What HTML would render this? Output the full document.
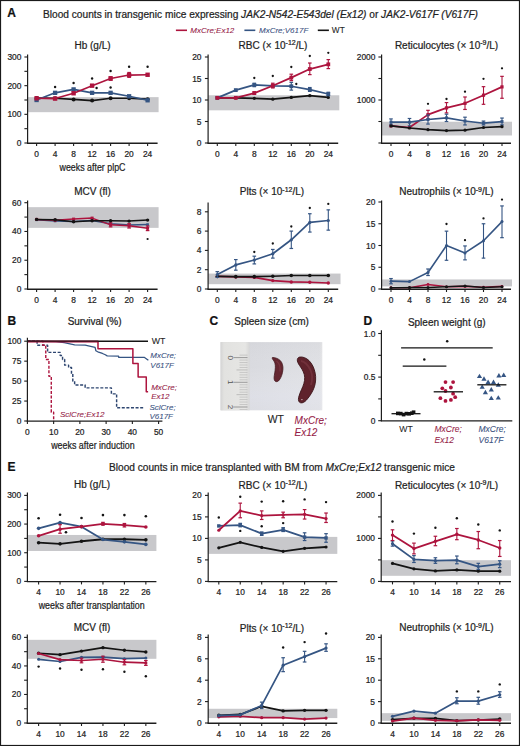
<!DOCTYPE html>
<html><head><meta charset="utf-8"><title>Figure</title>
<style>html,body{margin:0;padding:0;background:#fff;}body{width:520px;height:746px;overflow:hidden;font-family:"Liberation Sans", sans-serif;}svg{display:block;}</style></head><body>
<svg width="520" height="746" viewBox="0 0 520 746" font-family='"Liberation Sans", sans-serif'>
<rect x="0" y="0" width="520" height="746" fill="#ffffff"/>
<text x="7.3" y="17.4" font-size="12" text-anchor="start" fill="#111" stroke="#111" stroke-width="0.22" font-weight="bold">A</text>
<text x="7.5" y="324.5" font-size="12" text-anchor="start" fill="#111" stroke="#111" stroke-width="0.22" font-weight="bold">B</text>
<text x="209.6" y="325" font-size="12" text-anchor="start" fill="#111" stroke="#111" stroke-width="0.22" font-weight="bold">C</text>
<text x="363.4" y="324.5" font-size="12" text-anchor="start" fill="#111" stroke="#111" stroke-width="0.22" font-weight="bold">D</text>
<text x="7.4" y="471.3" font-size="12" text-anchor="start" fill="#111" stroke="#111" stroke-width="0.22" font-weight="bold">E</text>
<text x="43" y="18" font-size="10.1" fill="#1e1e1e" stroke="#1e1e1e" stroke-width="0.22" textLength="435" lengthAdjust="spacingAndGlyphs">Blood counts in transgenic mice expressing <tspan font-style="italic">JAK2-N542-E543del (Ex12)</tspan> or <tspan font-style="italic">JAK2-V617F (V617F)</tspan></text>
<text x="109" y="471" font-size="10.1" fill="#1e1e1e" stroke="#1e1e1e" stroke-width="0.22" textLength="346" lengthAdjust="spacingAndGlyphs">Blood counts in mice transplanted with BM from <tspan font-style="italic">MxCre;Ex12</tspan> transgenic mice</text>
<line x1="175.9" y1="30.3" x2="187" y2="30.3" stroke="#ad143e" stroke-width="1.6"/>
<text x="190.3" y="32.8" font-size="8" text-anchor="start" fill="#961c48" stroke="#961c48" stroke-width="0.08" font-style="italic">MxCre;Ex12</text>
<line x1="244.4" y1="30.3" x2="255.3" y2="30.3" stroke="#355583" stroke-width="1.6"/>
<text x="259" y="32.8" font-size="8" text-anchor="start" fill="#3a5180" stroke="#3a5180" stroke-width="0.08" font-style="italic">MxCre;V617F</text>
<line x1="317.8" y1="30.3" x2="328.9" y2="30.3" stroke="#141414" stroke-width="1.6"/>
<text x="331.8" y="32.8" font-size="8.3" text-anchor="start" fill="#1e1e1e" stroke="#1e1e1e" stroke-width="0.08">WT</text>
<rect x="27.6" y="97.13" width="131" height="15.05" fill="#c8c8cb"/>
<polyline points="36.6,97.99 55.1,98.28 73.6,99.43 92.1,100.57 110.6,98.28 129.1,98.28 147.6,99.14" fill="none" stroke="#141414" stroke-width="1.65" stroke-linejoin="round"/>
<circle cx="36.6" cy="97.99" r="2" fill="#141414"/>
<circle cx="55.1" cy="98.28" r="2" fill="#141414"/>
<circle cx="73.6" cy="99.43" r="2" fill="#141414"/>
<circle cx="92.1" cy="100.57" r="2" fill="#141414"/>
<circle cx="110.6" cy="98.28" r="2" fill="#141414"/>
<circle cx="129.1" cy="98.28" r="2" fill="#141414"/>
<circle cx="147.6" cy="99.14" r="2" fill="#141414"/>
<polyline points="36.6,100 55.1,92.83 73.6,89.39 92.1,92.83 110.6,92.83 129.1,96.27 147.6,100.29" fill="none" stroke="#355583" stroke-width="1.65" stroke-linejoin="round"/>
<rect x="34.45" y="97.85" width="4.3" height="4.3" fill="#355583"/>
<rect x="52.95" y="90.68" width="4.3" height="4.3" fill="#355583"/>
<rect x="71.45" y="87.24" width="4.3" height="4.3" fill="#355583"/>
<rect x="89.95" y="90.68" width="4.3" height="4.3" fill="#355583"/>
<rect x="108.45" y="90.68" width="4.3" height="4.3" fill="#355583"/>
<rect x="126.95" y="94.12" width="4.3" height="4.3" fill="#355583"/>
<rect x="145.45" y="98.14" width="4.3" height="4.3" fill="#355583"/>
<polyline points="36.6,98.28 55.1,98.57 73.6,93.26 92.1,85.67 110.6,78.5 129.1,75.06 147.6,74.77" fill="none" stroke="#ad143e" stroke-width="1.65" stroke-linejoin="round"/>
<line x1="129.1" y1="77.35" x2="129.1" y2="72.48" stroke="#ad143e" stroke-width="1.1"/>
<line x1="127.3" y1="77.35" x2="130.9" y2="77.35" stroke="#ad143e" stroke-width="1.2"/>
<line x1="127.3" y1="72.48" x2="130.9" y2="72.48" stroke="#ad143e" stroke-width="1.2"/>
<line x1="110.6" y1="80.22" x2="110.6" y2="76.78" stroke="#ad143e" stroke-width="1.1"/>
<line x1="108.8" y1="80.22" x2="112.4" y2="80.22" stroke="#ad143e" stroke-width="1.2"/>
<line x1="108.8" y1="76.78" x2="112.4" y2="76.78" stroke="#ad143e" stroke-width="1.2"/>
<rect x="34.4" y="96.08" width="4.4" height="4.4" fill="#ad143e"/>
<rect x="52.9" y="96.37" width="4.4" height="4.4" fill="#ad143e"/>
<rect x="71.4" y="91.06" width="4.4" height="4.4" fill="#ad143e"/>
<rect x="89.9" y="83.47" width="4.4" height="4.4" fill="#ad143e"/>
<rect x="108.4" y="76.3" width="4.4" height="4.4" fill="#ad143e"/>
<rect x="126.9" y="72.86" width="4.4" height="4.4" fill="#ad143e"/>
<rect x="145.4" y="72.57" width="4.4" height="4.4" fill="#ad143e"/>
<line x1="27.6" y1="54.5" x2="27.6" y2="143.6" stroke="#1e1e1e" stroke-width="1.2"/>
<line x1="27" y1="143.25" x2="157.6" y2="143.25" stroke="#1e1e1e" stroke-width="1.3"/>
<line x1="24.4" y1="143" x2="27.6" y2="143" stroke="#1e1e1e" stroke-width="1.1"/>
<text x="21.4" y="146" font-size="8.4" text-anchor="end" fill="#1e1e1e" stroke="#1e1e1e" stroke-width="0.22">0</text>
<line x1="24.4" y1="128.67" x2="27.6" y2="128.67" stroke="#1e1e1e" stroke-width="1.1"/>
<line x1="24.4" y1="114.33" x2="27.6" y2="114.33" stroke="#1e1e1e" stroke-width="1.1"/>
<text x="21.4" y="117.33" font-size="8.4" text-anchor="end" fill="#1e1e1e" stroke="#1e1e1e" stroke-width="0.22">100</text>
<line x1="24.4" y1="100" x2="27.6" y2="100" stroke="#1e1e1e" stroke-width="1.1"/>
<line x1="24.4" y1="85.67" x2="27.6" y2="85.67" stroke="#1e1e1e" stroke-width="1.1"/>
<text x="21.4" y="88.67" font-size="8.4" text-anchor="end" fill="#1e1e1e" stroke="#1e1e1e" stroke-width="0.22">200</text>
<line x1="24.4" y1="71.33" x2="27.6" y2="71.33" stroke="#1e1e1e" stroke-width="1.1"/>
<line x1="24.4" y1="57" x2="27.6" y2="57" stroke="#1e1e1e" stroke-width="1.1"/>
<text x="21.4" y="60" font-size="8.4" text-anchor="end" fill="#1e1e1e" stroke="#1e1e1e" stroke-width="0.22">300</text>
<line x1="36.6" y1="143" x2="36.6" y2="146" stroke="#1e1e1e" stroke-width="1.1"/>
<text x="36.6" y="156.5" font-size="8.4" text-anchor="middle" fill="#1e1e1e" stroke="#1e1e1e" stroke-width="0.22">0</text>
<line x1="55.1" y1="143" x2="55.1" y2="146" stroke="#1e1e1e" stroke-width="1.1"/>
<text x="55.1" y="156.5" font-size="8.4" text-anchor="middle" fill="#1e1e1e" stroke="#1e1e1e" stroke-width="0.22">4</text>
<line x1="73.6" y1="143" x2="73.6" y2="146" stroke="#1e1e1e" stroke-width="1.1"/>
<text x="73.6" y="156.5" font-size="8.4" text-anchor="middle" fill="#1e1e1e" stroke="#1e1e1e" stroke-width="0.22">8</text>
<line x1="92.1" y1="143" x2="92.1" y2="146" stroke="#1e1e1e" stroke-width="1.1"/>
<text x="92.1" y="156.5" font-size="8.4" text-anchor="middle" fill="#1e1e1e" stroke="#1e1e1e" stroke-width="0.22">12</text>
<line x1="110.6" y1="143" x2="110.6" y2="146" stroke="#1e1e1e" stroke-width="1.1"/>
<text x="110.6" y="156.5" font-size="8.4" text-anchor="middle" fill="#1e1e1e" stroke="#1e1e1e" stroke-width="0.22">16</text>
<line x1="129.1" y1="143" x2="129.1" y2="146" stroke="#1e1e1e" stroke-width="1.1"/>
<text x="129.1" y="156.5" font-size="8.4" text-anchor="middle" fill="#1e1e1e" stroke="#1e1e1e" stroke-width="0.22">20</text>
<line x1="147.6" y1="143" x2="147.6" y2="146" stroke="#1e1e1e" stroke-width="1.1"/>
<text x="147.6" y="156.5" font-size="8.4" text-anchor="middle" fill="#1e1e1e" stroke="#1e1e1e" stroke-width="0.22">24</text>
<circle cx="55.1" cy="87" r="1.2" fill="#141414"/>
<circle cx="73.6" cy="83" r="1.2" fill="#141414"/>
<circle cx="92.1" cy="78.5" r="1.2" fill="#141414"/>
<circle cx="96.6" cy="88" r="1.2" fill="#141414"/>
<circle cx="110.6" cy="71" r="1.2" fill="#141414"/>
<circle cx="110.6" cy="87.5" r="1.2" fill="#141414"/>
<circle cx="129.1" cy="66.8" r="1.2" fill="#141414"/>
<circle cx="147.6" cy="66.8" r="1.2" fill="#141414"/>
<text x="92.5" y="49.2" font-size="10" text-anchor="middle" fill="#1e1e1e" stroke="#1e1e1e" stroke-width="0.22">Hb (g/L)</text>
<rect x="208.1" y="95.27" width="131.2" height="15.05" fill="#c8c8cb"/>
<polyline points="217.3,97.85 235.8,97.85 254.3,98.28 272.8,99.14 291.3,97.42 309.8,95.7 328.3,97.42" fill="none" stroke="#141414" stroke-width="1.75" stroke-linejoin="round"/>
<circle cx="217.3" cy="97.85" r="1.65" fill="#141414"/>
<circle cx="235.8" cy="97.85" r="1.65" fill="#141414"/>
<circle cx="254.3" cy="98.28" r="1.65" fill="#141414"/>
<circle cx="272.8" cy="99.14" r="1.65" fill="#141414"/>
<circle cx="291.3" cy="97.42" r="1.65" fill="#141414"/>
<circle cx="309.8" cy="95.7" r="1.65" fill="#141414"/>
<circle cx="328.3" cy="97.42" r="1.65" fill="#141414"/>
<polyline points="217.3,97.85 235.8,90.11 254.3,84.95 272.8,85.81 291.3,86.24 309.8,89.68 328.3,93.98" fill="none" stroke="#355583" stroke-width="1.75" stroke-linejoin="round"/>
<line x1="254.3" y1="86.67" x2="254.3" y2="83.23" stroke="#355583" stroke-width="1.1"/>
<line x1="252.5" y1="86.67" x2="256.1" y2="86.67" stroke="#355583" stroke-width="1.2"/>
<line x1="252.5" y1="83.23" x2="256.1" y2="83.23" stroke="#355583" stroke-width="1.2"/>
<line x1="291.3" y1="90.11" x2="291.3" y2="82.37" stroke="#355583" stroke-width="1.1"/>
<line x1="289.5" y1="90.11" x2="293.1" y2="90.11" stroke="#355583" stroke-width="1.2"/>
<line x1="289.5" y1="82.37" x2="293.1" y2="82.37" stroke="#355583" stroke-width="1.2"/>
<line x1="309.8" y1="91.4" x2="309.8" y2="87.53" stroke="#355583" stroke-width="1.1"/>
<line x1="308" y1="91.4" x2="311.6" y2="91.4" stroke="#355583" stroke-width="1.2"/>
<line x1="308" y1="87.53" x2="311.6" y2="87.53" stroke="#355583" stroke-width="1.2"/>
<line x1="328.3" y1="95.7" x2="328.3" y2="92.26" stroke="#355583" stroke-width="1.1"/>
<line x1="326.5" y1="95.7" x2="330.1" y2="95.7" stroke="#355583" stroke-width="1.2"/>
<line x1="326.5" y1="92.26" x2="330.1" y2="92.26" stroke="#355583" stroke-width="1.2"/>
<rect x="215.4" y="95.95" width="3.8" height="3.8" fill="#355583"/>
<rect x="233.9" y="88.21" width="3.8" height="3.8" fill="#355583"/>
<rect x="252.4" y="83.05" width="3.8" height="3.8" fill="#355583"/>
<rect x="270.9" y="83.91" width="3.8" height="3.8" fill="#355583"/>
<rect x="289.4" y="84.34" width="3.8" height="3.8" fill="#355583"/>
<rect x="307.9" y="87.78" width="3.8" height="3.8" fill="#355583"/>
<rect x="326.4" y="92.08" width="3.8" height="3.8" fill="#355583"/>
<polyline points="217.3,97.85 235.8,97.85 254.3,93.12 272.8,85.81 291.3,77.64 309.8,69.04 328.3,64.31" fill="none" stroke="#ad143e" stroke-width="1.75" stroke-linejoin="round"/>
<line x1="254.3" y1="94.41" x2="254.3" y2="91.83" stroke="#ad143e" stroke-width="1.1"/>
<line x1="252.5" y1="94.41" x2="256.1" y2="94.41" stroke="#ad143e" stroke-width="1.2"/>
<line x1="252.5" y1="91.83" x2="256.1" y2="91.83" stroke="#ad143e" stroke-width="1.2"/>
<line x1="272.8" y1="87.96" x2="272.8" y2="83.23" stroke="#ad143e" stroke-width="1.1"/>
<line x1="271" y1="87.96" x2="274.6" y2="87.96" stroke="#ad143e" stroke-width="1.2"/>
<line x1="271" y1="83.23" x2="274.6" y2="83.23" stroke="#ad143e" stroke-width="1.2"/>
<line x1="291.3" y1="80.65" x2="291.3" y2="74.2" stroke="#ad143e" stroke-width="1.1"/>
<line x1="289.5" y1="80.65" x2="293.1" y2="80.65" stroke="#ad143e" stroke-width="1.2"/>
<line x1="289.5" y1="74.2" x2="293.1" y2="74.2" stroke="#ad143e" stroke-width="1.2"/>
<line x1="309.8" y1="74.63" x2="309.8" y2="63.02" stroke="#ad143e" stroke-width="1.1"/>
<line x1="308" y1="74.63" x2="311.6" y2="74.63" stroke="#ad143e" stroke-width="1.2"/>
<line x1="308" y1="63.02" x2="311.6" y2="63.02" stroke="#ad143e" stroke-width="1.2"/>
<line x1="328.3" y1="68.61" x2="328.3" y2="59.58" stroke="#ad143e" stroke-width="1.1"/>
<line x1="326.5" y1="68.61" x2="330.1" y2="68.61" stroke="#ad143e" stroke-width="1.2"/>
<line x1="326.5" y1="59.58" x2="330.1" y2="59.58" stroke="#ad143e" stroke-width="1.2"/>
<rect x="215.4" y="95.95" width="3.8" height="3.8" fill="#ad143e"/>
<rect x="233.9" y="95.95" width="3.8" height="3.8" fill="#ad143e"/>
<rect x="252.4" y="91.22" width="3.8" height="3.8" fill="#ad143e"/>
<rect x="270.9" y="83.91" width="3.8" height="3.8" fill="#ad143e"/>
<rect x="289.4" y="75.74" width="3.8" height="3.8" fill="#ad143e"/>
<rect x="307.9" y="67.14" width="3.8" height="3.8" fill="#ad143e"/>
<rect x="326.4" y="62.41" width="3.8" height="3.8" fill="#ad143e"/>
<line x1="208.1" y1="54.5" x2="208.1" y2="143.6" stroke="#1e1e1e" stroke-width="1.2"/>
<line x1="207.5" y1="143.25" x2="338.2" y2="143.25" stroke="#1e1e1e" stroke-width="1.3"/>
<line x1="204.9" y1="143" x2="208.1" y2="143" stroke="#1e1e1e" stroke-width="1.1"/>
<text x="201.5" y="146" font-size="8.4" text-anchor="end" fill="#1e1e1e" stroke="#1e1e1e" stroke-width="0.22">0</text>
<line x1="204.9" y1="121.5" x2="208.1" y2="121.5" stroke="#1e1e1e" stroke-width="1.1"/>
<text x="201.5" y="124.5" font-size="8.4" text-anchor="end" fill="#1e1e1e" stroke="#1e1e1e" stroke-width="0.22">5</text>
<line x1="204.9" y1="100" x2="208.1" y2="100" stroke="#1e1e1e" stroke-width="1.1"/>
<text x="201.5" y="103" font-size="8.4" text-anchor="end" fill="#1e1e1e" stroke="#1e1e1e" stroke-width="0.22">10</text>
<line x1="204.9" y1="78.5" x2="208.1" y2="78.5" stroke="#1e1e1e" stroke-width="1.1"/>
<text x="201.5" y="81.5" font-size="8.4" text-anchor="end" fill="#1e1e1e" stroke="#1e1e1e" stroke-width="0.22">15</text>
<line x1="204.9" y1="57" x2="208.1" y2="57" stroke="#1e1e1e" stroke-width="1.1"/>
<text x="201.5" y="60" font-size="8.4" text-anchor="end" fill="#1e1e1e" stroke="#1e1e1e" stroke-width="0.22">20</text>
<line x1="217.3" y1="143" x2="217.3" y2="146" stroke="#1e1e1e" stroke-width="1.1"/>
<text x="217.3" y="156.5" font-size="8.4" text-anchor="middle" fill="#1e1e1e" stroke="#1e1e1e" stroke-width="0.22">0</text>
<line x1="235.8" y1="143" x2="235.8" y2="146" stroke="#1e1e1e" stroke-width="1.1"/>
<text x="235.8" y="156.5" font-size="8.4" text-anchor="middle" fill="#1e1e1e" stroke="#1e1e1e" stroke-width="0.22">4</text>
<line x1="254.3" y1="143" x2="254.3" y2="146" stroke="#1e1e1e" stroke-width="1.1"/>
<text x="254.3" y="156.5" font-size="8.4" text-anchor="middle" fill="#1e1e1e" stroke="#1e1e1e" stroke-width="0.22">8</text>
<line x1="272.8" y1="143" x2="272.8" y2="146" stroke="#1e1e1e" stroke-width="1.1"/>
<text x="272.8" y="156.5" font-size="8.4" text-anchor="middle" fill="#1e1e1e" stroke="#1e1e1e" stroke-width="0.22">12</text>
<line x1="291.3" y1="143" x2="291.3" y2="146" stroke="#1e1e1e" stroke-width="1.1"/>
<text x="291.3" y="156.5" font-size="8.4" text-anchor="middle" fill="#1e1e1e" stroke="#1e1e1e" stroke-width="0.22">16</text>
<line x1="309.8" y1="143" x2="309.8" y2="146" stroke="#1e1e1e" stroke-width="1.1"/>
<text x="309.8" y="156.5" font-size="8.4" text-anchor="middle" fill="#1e1e1e" stroke="#1e1e1e" stroke-width="0.22">20</text>
<line x1="328.3" y1="143" x2="328.3" y2="146" stroke="#1e1e1e" stroke-width="1.1"/>
<text x="328.3" y="156.5" font-size="8.4" text-anchor="middle" fill="#1e1e1e" stroke="#1e1e1e" stroke-width="0.22">24</text>
<circle cx="254.3" cy="78" r="1.15" fill="#141414"/>
<circle cx="272.8" cy="76" r="1.15" fill="#141414"/>
<circle cx="291.3" cy="67" r="1.15" fill="#141414"/>
<circle cx="296.3" cy="84" r="1.15" fill="#141414"/>
<circle cx="309.8" cy="56" r="1.15" fill="#141414"/>
<circle cx="328.3" cy="52.8" r="1.15" fill="#141414"/>
<text x="273" y="48.8" font-size="10" text-anchor="middle" fill="#1e1e1e" stroke="#1e1e1e" stroke-width="0.22">RBC (&#215; 10<tspan font-size="7" dy="-3.5">-12</tspan><tspan dy="3.5">/L)</tspan></text>
<rect x="381.6" y="121.72" width="130.4" height="13.76" fill="#c8c8cb"/>
<polyline points="391,125.89 409.5,127.52 428,114.62 446.5,107.91 465,103.31 483.5,95.18 502,86.89" fill="none" stroke="#ad143e" stroke-width="1.7" stroke-linejoin="round"/>
<line x1="428" y1="118.92" x2="428" y2="110.32" stroke="#ad143e" stroke-width="1.1"/>
<line x1="426.2" y1="118.92" x2="429.8" y2="118.92" stroke="#ad143e" stroke-width="1.2"/>
<line x1="426.2" y1="110.32" x2="429.8" y2="110.32" stroke="#ad143e" stroke-width="1.2"/>
<line x1="446.5" y1="112.9" x2="446.5" y2="102.58" stroke="#ad143e" stroke-width="1.1"/>
<line x1="444.7" y1="112.9" x2="448.3" y2="112.9" stroke="#ad143e" stroke-width="1.2"/>
<line x1="444.7" y1="102.58" x2="448.3" y2="102.58" stroke="#ad143e" stroke-width="1.2"/>
<line x1="465" y1="109.46" x2="465" y2="96.99" stroke="#ad143e" stroke-width="1.1"/>
<line x1="463.2" y1="109.46" x2="466.8" y2="109.46" stroke="#ad143e" stroke-width="1.2"/>
<line x1="463.2" y1="96.99" x2="466.8" y2="96.99" stroke="#ad143e" stroke-width="1.2"/>
<line x1="483.5" y1="104.3" x2="483.5" y2="86.67" stroke="#ad143e" stroke-width="1.1"/>
<line x1="481.7" y1="104.3" x2="485.3" y2="104.3" stroke="#ad143e" stroke-width="1.2"/>
<line x1="481.7" y1="86.67" x2="485.3" y2="86.67" stroke="#ad143e" stroke-width="1.2"/>
<line x1="502" y1="98.28" x2="502" y2="76.35" stroke="#ad143e" stroke-width="1.1"/>
<line x1="500.2" y1="98.28" x2="503.8" y2="98.28" stroke="#ad143e" stroke-width="1.2"/>
<line x1="500.2" y1="76.35" x2="503.8" y2="76.35" stroke="#ad143e" stroke-width="1.2"/>
<rect x="389.4" y="124.29" width="3.2" height="3.2" fill="#ad143e"/>
<rect x="407.9" y="125.92" width="3.2" height="3.2" fill="#ad143e"/>
<rect x="426.4" y="113.02" width="3.2" height="3.2" fill="#ad143e"/>
<rect x="444.9" y="106.31" width="3.2" height="3.2" fill="#ad143e"/>
<rect x="463.4" y="101.71" width="3.2" height="3.2" fill="#ad143e"/>
<rect x="481.9" y="93.58" width="3.2" height="3.2" fill="#ad143e"/>
<rect x="500.4" y="85.29" width="3.2" height="3.2" fill="#ad143e"/>
<polyline points="391,122.19 409.5,122.19 428,119.48 446.5,117.89 465,120.98 483.5,123.22 502,121.59" fill="none" stroke="#355583" stroke-width="1.7" stroke-linejoin="round"/>
<line x1="391" y1="124.94" x2="391" y2="118.92" stroke="#355583" stroke-width="1.1"/>
<line x1="389.2" y1="124.94" x2="392.8" y2="124.94" stroke="#355583" stroke-width="1.2"/>
<line x1="389.2" y1="118.92" x2="392.8" y2="118.92" stroke="#355583" stroke-width="1.2"/>
<line x1="409.5" y1="125.8" x2="409.5" y2="118.49" stroke="#355583" stroke-width="1.1"/>
<line x1="407.7" y1="125.8" x2="411.3" y2="125.8" stroke="#355583" stroke-width="1.2"/>
<line x1="407.7" y1="118.49" x2="411.3" y2="118.49" stroke="#355583" stroke-width="1.2"/>
<line x1="428" y1="124.08" x2="428" y2="115.05" stroke="#355583" stroke-width="1.1"/>
<line x1="426.2" y1="124.08" x2="429.8" y2="124.08" stroke="#355583" stroke-width="1.2"/>
<line x1="426.2" y1="115.05" x2="429.8" y2="115.05" stroke="#355583" stroke-width="1.2"/>
<line x1="446.5" y1="121.5" x2="446.5" y2="114.19" stroke="#355583" stroke-width="1.1"/>
<line x1="444.7" y1="121.5" x2="448.3" y2="121.5" stroke="#355583" stroke-width="1.2"/>
<line x1="444.7" y1="114.19" x2="448.3" y2="114.19" stroke="#355583" stroke-width="1.2"/>
<line x1="465" y1="124.94" x2="465" y2="117.2" stroke="#355583" stroke-width="1.1"/>
<line x1="463.2" y1="124.94" x2="466.8" y2="124.94" stroke="#355583" stroke-width="1.2"/>
<line x1="463.2" y1="117.2" x2="466.8" y2="117.2" stroke="#355583" stroke-width="1.2"/>
<line x1="483.5" y1="124.94" x2="483.5" y2="121.07" stroke="#355583" stroke-width="1.1"/>
<line x1="481.7" y1="124.94" x2="485.3" y2="124.94" stroke="#355583" stroke-width="1.2"/>
<line x1="481.7" y1="121.07" x2="485.3" y2="121.07" stroke="#355583" stroke-width="1.2"/>
<line x1="502" y1="124.94" x2="502" y2="118.06" stroke="#355583" stroke-width="1.1"/>
<line x1="500.2" y1="124.94" x2="503.8" y2="124.94" stroke="#355583" stroke-width="1.2"/>
<line x1="500.2" y1="118.06" x2="503.8" y2="118.06" stroke="#355583" stroke-width="1.2"/>
<rect x="389.5" y="120.69" width="3" height="3" fill="#355583"/>
<rect x="408" y="120.69" width="3" height="3" fill="#355583"/>
<rect x="426.5" y="117.98" width="3" height="3" fill="#355583"/>
<rect x="445" y="116.39" width="3" height="3" fill="#355583"/>
<rect x="463.5" y="119.48" width="3" height="3" fill="#355583"/>
<rect x="482" y="121.72" width="3" height="3" fill="#355583"/>
<rect x="500.5" y="120.09" width="3" height="3" fill="#355583"/>
<polyline points="391,125.89 409.5,127.99 428,129.71 446.5,130.53 465,130.19 483.5,127.52 502,126.7" fill="none" stroke="#141414" stroke-width="1.7" stroke-linejoin="round"/>
<circle cx="391" cy="125.89" r="1.6" fill="#141414"/>
<circle cx="409.5" cy="127.99" r="1.6" fill="#141414"/>
<circle cx="428" cy="129.71" r="1.6" fill="#141414"/>
<circle cx="446.5" cy="130.53" r="1.6" fill="#141414"/>
<circle cx="465" cy="130.19" r="1.6" fill="#141414"/>
<circle cx="483.5" cy="127.52" r="1.6" fill="#141414"/>
<circle cx="502" cy="126.7" r="1.6" fill="#141414"/>
<line x1="381.6" y1="54.5" x2="381.6" y2="143.6" stroke="#1e1e1e" stroke-width="1.2"/>
<line x1="381" y1="143.25" x2="511" y2="143.25" stroke="#1e1e1e" stroke-width="1.3"/>
<line x1="378.4" y1="143" x2="381.6" y2="143" stroke="#1e1e1e" stroke-width="1.1"/>
<line x1="378.4" y1="121.5" x2="381.6" y2="121.5" stroke="#1e1e1e" stroke-width="1.1"/>
<line x1="378.4" y1="100" x2="381.6" y2="100" stroke="#1e1e1e" stroke-width="1.1"/>
<text x="375.4" y="103" font-size="8.4" text-anchor="end" fill="#1e1e1e" stroke="#1e1e1e" stroke-width="0.22">1000</text>
<line x1="378.4" y1="78.5" x2="381.6" y2="78.5" stroke="#1e1e1e" stroke-width="1.1"/>
<line x1="378.4" y1="57" x2="381.6" y2="57" stroke="#1e1e1e" stroke-width="1.1"/>
<text x="375.4" y="60" font-size="8.4" text-anchor="end" fill="#1e1e1e" stroke="#1e1e1e" stroke-width="0.22">2000</text>
<line x1="391" y1="143" x2="391" y2="146" stroke="#1e1e1e" stroke-width="1.1"/>
<text x="391" y="156.5" font-size="8.4" text-anchor="middle" fill="#1e1e1e" stroke="#1e1e1e" stroke-width="0.22">0</text>
<line x1="409.5" y1="143" x2="409.5" y2="146" stroke="#1e1e1e" stroke-width="1.1"/>
<text x="409.5" y="156.5" font-size="8.4" text-anchor="middle" fill="#1e1e1e" stroke="#1e1e1e" stroke-width="0.22">4</text>
<line x1="428" y1="143" x2="428" y2="146" stroke="#1e1e1e" stroke-width="1.1"/>
<text x="428" y="156.5" font-size="8.4" text-anchor="middle" fill="#1e1e1e" stroke="#1e1e1e" stroke-width="0.22">8</text>
<line x1="446.5" y1="143" x2="446.5" y2="146" stroke="#1e1e1e" stroke-width="1.1"/>
<text x="446.5" y="156.5" font-size="8.4" text-anchor="middle" fill="#1e1e1e" stroke="#1e1e1e" stroke-width="0.22">12</text>
<line x1="465" y1="143" x2="465" y2="146" stroke="#1e1e1e" stroke-width="1.1"/>
<text x="465" y="156.5" font-size="8.4" text-anchor="middle" fill="#1e1e1e" stroke="#1e1e1e" stroke-width="0.22">16</text>
<line x1="483.5" y1="143" x2="483.5" y2="146" stroke="#1e1e1e" stroke-width="1.1"/>
<text x="483.5" y="156.5" font-size="8.4" text-anchor="middle" fill="#1e1e1e" stroke="#1e1e1e" stroke-width="0.22">20</text>
<line x1="502" y1="143" x2="502" y2="146" stroke="#1e1e1e" stroke-width="1.1"/>
<text x="502" y="156.5" font-size="8.4" text-anchor="middle" fill="#1e1e1e" stroke="#1e1e1e" stroke-width="0.22">24</text>
<circle cx="428" cy="103.8" r="1.15" fill="#141414"/>
<circle cx="446.5" cy="99" r="1.15" fill="#141414"/>
<circle cx="465" cy="91.7" r="1.15" fill="#141414"/>
<circle cx="483.5" cy="78.8" r="1.15" fill="#141414"/>
<circle cx="502" cy="68.3" r="1.15" fill="#141414"/>
<text x="446.5" y="48.8" font-size="10" text-anchor="middle" fill="#1e1e1e" stroke="#1e1e1e" stroke-width="0.22">Reticulocytes (&#215; 10<tspan font-size="7" dy="-3.5">-9</tspan><tspan dy="3.5">/L)</tspan></text>
<rect x="27.6" y="207.16" width="131" height="20.71" fill="#c8c8cb"/>
<polyline points="36.6,219.82 55.1,220.97 73.6,221.4 92.1,220.54 110.6,223.84 129.1,224.99 147.6,224.56" fill="none" stroke="#355583" stroke-width="1.5" stroke-linejoin="round"/>
<rect x="35.3" y="218.52" width="2.6" height="2.6" fill="#355583"/>
<rect x="53.8" y="219.67" width="2.6" height="2.6" fill="#355583"/>
<rect x="72.3" y="220.1" width="2.6" height="2.6" fill="#355583"/>
<rect x="90.8" y="219.24" width="2.6" height="2.6" fill="#355583"/>
<rect x="109.3" y="222.54" width="2.6" height="2.6" fill="#355583"/>
<rect x="127.8" y="223.69" width="2.6" height="2.6" fill="#355583"/>
<rect x="146.3" y="223.26" width="2.6" height="2.6" fill="#355583"/>
<polyline points="36.6,219.38 55.1,220.25 73.6,219.1 92.1,218.09 110.6,224.85 129.1,225.86 147.6,228.3" fill="none" stroke="#ad143e" stroke-width="1.5" stroke-linejoin="round"/>
<line x1="110.6" y1="226.86" x2="110.6" y2="222.84" stroke="#ad143e" stroke-width="1.1"/>
<line x1="108.8" y1="226.86" x2="112.4" y2="226.86" stroke="#ad143e" stroke-width="1.2"/>
<line x1="108.8" y1="222.84" x2="112.4" y2="222.84" stroke="#ad143e" stroke-width="1.2"/>
<line x1="129.1" y1="228.01" x2="129.1" y2="223.7" stroke="#ad143e" stroke-width="1.1"/>
<line x1="127.3" y1="228.01" x2="130.9" y2="228.01" stroke="#ad143e" stroke-width="1.2"/>
<line x1="127.3" y1="223.7" x2="130.9" y2="223.7" stroke="#ad143e" stroke-width="1.2"/>
<line x1="147.6" y1="230.6" x2="147.6" y2="226" stroke="#ad143e" stroke-width="1.1"/>
<line x1="145.8" y1="230.6" x2="149.4" y2="230.6" stroke="#ad143e" stroke-width="1.2"/>
<line x1="145.8" y1="226" x2="149.4" y2="226" stroke="#ad143e" stroke-width="1.2"/>
<rect x="35.1" y="217.88" width="3" height="3" fill="#ad143e"/>
<rect x="53.6" y="218.75" width="3" height="3" fill="#ad143e"/>
<rect x="72.1" y="217.6" width="3" height="3" fill="#ad143e"/>
<rect x="90.6" y="216.59" width="3" height="3" fill="#ad143e"/>
<rect x="109.1" y="223.35" width="3" height="3" fill="#ad143e"/>
<rect x="127.6" y="224.36" width="3" height="3" fill="#ad143e"/>
<rect x="146.1" y="226.8" width="3" height="3" fill="#ad143e"/>
<polyline points="36.6,219.38 55.1,219.82 73.6,221.69 92.1,220.68 110.6,220.68 129.1,221.11 147.6,220.1" fill="none" stroke="#141414" stroke-width="1.5" stroke-linejoin="round"/>
<circle cx="36.6" cy="219.38" r="1.7" fill="#141414"/>
<circle cx="55.1" cy="219.82" r="1.7" fill="#141414"/>
<circle cx="73.6" cy="221.69" r="1.7" fill="#141414"/>
<circle cx="92.1" cy="220.68" r="1.7" fill="#141414"/>
<circle cx="110.6" cy="220.68" r="1.7" fill="#141414"/>
<circle cx="129.1" cy="221.11" r="1.7" fill="#141414"/>
<circle cx="147.6" cy="220.1" r="1.7" fill="#141414"/>
<line x1="27.6" y1="200.4" x2="27.6" y2="289.6" stroke="#1e1e1e" stroke-width="1.2"/>
<line x1="27" y1="289.25" x2="157.6" y2="289.25" stroke="#1e1e1e" stroke-width="1.3"/>
<line x1="24.4" y1="289" x2="27.6" y2="289" stroke="#1e1e1e" stroke-width="1.1"/>
<text x="21.4" y="292" font-size="8.4" text-anchor="end" fill="#1e1e1e" stroke="#1e1e1e" stroke-width="0.22">0</text>
<line x1="24.4" y1="274.62" x2="27.6" y2="274.62" stroke="#1e1e1e" stroke-width="1.1"/>
<line x1="24.4" y1="260.23" x2="27.6" y2="260.23" stroke="#1e1e1e" stroke-width="1.1"/>
<text x="21.4" y="263.23" font-size="8.4" text-anchor="end" fill="#1e1e1e" stroke="#1e1e1e" stroke-width="0.22">20</text>
<line x1="24.4" y1="245.85" x2="27.6" y2="245.85" stroke="#1e1e1e" stroke-width="1.1"/>
<line x1="24.4" y1="231.47" x2="27.6" y2="231.47" stroke="#1e1e1e" stroke-width="1.1"/>
<text x="21.4" y="234.47" font-size="8.4" text-anchor="end" fill="#1e1e1e" stroke="#1e1e1e" stroke-width="0.22">40</text>
<line x1="24.4" y1="217.08" x2="27.6" y2="217.08" stroke="#1e1e1e" stroke-width="1.1"/>
<line x1="24.4" y1="202.7" x2="27.6" y2="202.7" stroke="#1e1e1e" stroke-width="1.1"/>
<text x="21.4" y="205.7" font-size="8.4" text-anchor="end" fill="#1e1e1e" stroke="#1e1e1e" stroke-width="0.22">60</text>
<line x1="36.6" y1="289" x2="36.6" y2="292" stroke="#1e1e1e" stroke-width="1.1"/>
<text x="36.6" y="302.5" font-size="8.4" text-anchor="middle" fill="#1e1e1e" stroke="#1e1e1e" stroke-width="0.22">0</text>
<line x1="55.1" y1="289" x2="55.1" y2="292" stroke="#1e1e1e" stroke-width="1.1"/>
<text x="55.1" y="302.5" font-size="8.4" text-anchor="middle" fill="#1e1e1e" stroke="#1e1e1e" stroke-width="0.22">4</text>
<line x1="73.6" y1="289" x2="73.6" y2="292" stroke="#1e1e1e" stroke-width="1.1"/>
<text x="73.6" y="302.5" font-size="8.4" text-anchor="middle" fill="#1e1e1e" stroke="#1e1e1e" stroke-width="0.22">8</text>
<line x1="92.1" y1="289" x2="92.1" y2="292" stroke="#1e1e1e" stroke-width="1.1"/>
<text x="92.1" y="302.5" font-size="8.4" text-anchor="middle" fill="#1e1e1e" stroke="#1e1e1e" stroke-width="0.22">12</text>
<line x1="110.6" y1="289" x2="110.6" y2="292" stroke="#1e1e1e" stroke-width="1.1"/>
<text x="110.6" y="302.5" font-size="8.4" text-anchor="middle" fill="#1e1e1e" stroke="#1e1e1e" stroke-width="0.22">16</text>
<line x1="129.1" y1="289" x2="129.1" y2="292" stroke="#1e1e1e" stroke-width="1.1"/>
<text x="129.1" y="302.5" font-size="8.4" text-anchor="middle" fill="#1e1e1e" stroke="#1e1e1e" stroke-width="0.22">20</text>
<line x1="147.6" y1="289" x2="147.6" y2="292" stroke="#1e1e1e" stroke-width="1.1"/>
<text x="147.6" y="302.5" font-size="8.4" text-anchor="middle" fill="#1e1e1e" stroke="#1e1e1e" stroke-width="0.22">24</text>
<circle cx="147.6" cy="239" r="1.1" fill="#141414"/>
<text x="92.5" y="195.4" font-size="10" text-anchor="middle" fill="#1e1e1e" stroke="#1e1e1e" stroke-width="0.22">MCV (fl)</text>
<rect x="208.1" y="273.56" width="132.4" height="10.62" fill="#c8c8cb"/>
<polyline points="217.3,276.45 235.8,276.94 254.3,277.42 272.8,280.6 291.3,281.96 309.8,282.25 328.3,283.02" fill="none" stroke="#ad143e" stroke-width="1.7" stroke-linejoin="round"/>
<circle cx="217.3" cy="276.45" r="1.7" fill="#ad143e"/>
<circle cx="235.8" cy="276.94" r="1.7" fill="#ad143e"/>
<circle cx="254.3" cy="277.42" r="1.7" fill="#ad143e"/>
<circle cx="272.8" cy="280.6" r="1.7" fill="#ad143e"/>
<circle cx="291.3" cy="281.96" r="1.7" fill="#ad143e"/>
<circle cx="309.8" cy="282.25" r="1.7" fill="#ad143e"/>
<circle cx="328.3" cy="283.02" r="1.7" fill="#ad143e"/>
<polyline points="217.3,276.45 235.8,276.65 254.3,276.65 272.8,276.26 291.3,275.49 309.8,275.49 328.3,275.49" fill="none" stroke="#141414" stroke-width="1.7" stroke-linejoin="round"/>
<circle cx="217.3" cy="276.45" r="1.8" fill="#141414"/>
<circle cx="235.8" cy="276.65" r="1.8" fill="#141414"/>
<circle cx="254.3" cy="276.65" r="1.8" fill="#141414"/>
<circle cx="272.8" cy="276.26" r="1.8" fill="#141414"/>
<circle cx="291.3" cy="275.49" r="1.8" fill="#141414"/>
<circle cx="309.8" cy="275.49" r="1.8" fill="#141414"/>
<circle cx="328.3" cy="275.49" r="1.8" fill="#141414"/>
<polyline points="217.3,274.52 235.8,264.88 254.3,260.05 272.8,253.78 291.3,239.79 309.8,222.42 328.3,220.49" fill="none" stroke="#355583" stroke-width="1.7" stroke-linejoin="round"/>
<line x1="217.3" y1="277.42" x2="217.3" y2="271.63" stroke="#355583" stroke-width="1.1"/>
<line x1="215.5" y1="277.42" x2="219.1" y2="277.42" stroke="#355583" stroke-width="1.2"/>
<line x1="215.5" y1="271.63" x2="219.1" y2="271.63" stroke="#355583" stroke-width="1.2"/>
<line x1="235.8" y1="270.18" x2="235.8" y2="259.57" stroke="#355583" stroke-width="1.1"/>
<line x1="234" y1="270.18" x2="237.6" y2="270.18" stroke="#355583" stroke-width="1.2"/>
<line x1="234" y1="259.57" x2="237.6" y2="259.57" stroke="#355583" stroke-width="1.2"/>
<line x1="254.3" y1="263.91" x2="254.3" y2="256.19" stroke="#355583" stroke-width="1.1"/>
<line x1="252.5" y1="263.91" x2="256.1" y2="263.91" stroke="#355583" stroke-width="1.2"/>
<line x1="252.5" y1="256.19" x2="256.1" y2="256.19" stroke="#355583" stroke-width="1.2"/>
<line x1="272.8" y1="258.12" x2="272.8" y2="249.44" stroke="#355583" stroke-width="1.1"/>
<line x1="271" y1="258.12" x2="274.6" y2="258.12" stroke="#355583" stroke-width="1.2"/>
<line x1="271" y1="249.44" x2="274.6" y2="249.44" stroke="#355583" stroke-width="1.2"/>
<line x1="291.3" y1="248.47" x2="291.3" y2="231.1" stroke="#355583" stroke-width="1.1"/>
<line x1="289.5" y1="248.47" x2="293.1" y2="248.47" stroke="#355583" stroke-width="1.2"/>
<line x1="289.5" y1="231.1" x2="293.1" y2="231.1" stroke="#355583" stroke-width="1.2"/>
<line x1="309.8" y1="232.06" x2="309.8" y2="213.73" stroke="#355583" stroke-width="1.1"/>
<line x1="308" y1="232.06" x2="311.6" y2="232.06" stroke="#355583" stroke-width="1.2"/>
<line x1="308" y1="213.73" x2="311.6" y2="213.73" stroke="#355583" stroke-width="1.2"/>
<line x1="328.3" y1="230.14" x2="328.3" y2="209.87" stroke="#355583" stroke-width="1.1"/>
<line x1="326.5" y1="230.14" x2="330.1" y2="230.14" stroke="#355583" stroke-width="1.2"/>
<line x1="326.5" y1="209.87" x2="330.1" y2="209.87" stroke="#355583" stroke-width="1.2"/>
<circle cx="217.3" cy="274.52" r="1.6" fill="#355583"/>
<circle cx="235.8" cy="264.88" r="1.6" fill="#355583"/>
<circle cx="254.3" cy="260.05" r="1.6" fill="#355583"/>
<circle cx="272.8" cy="253.78" r="1.6" fill="#355583"/>
<circle cx="291.3" cy="239.79" r="1.6" fill="#355583"/>
<circle cx="309.8" cy="222.42" r="1.6" fill="#355583"/>
<circle cx="328.3" cy="220.49" r="1.6" fill="#355583"/>
<line x1="208.1" y1="202.4" x2="208.1" y2="289.6" stroke="#1e1e1e" stroke-width="1.2"/>
<line x1="207.5" y1="289.25" x2="338.2" y2="289.25" stroke="#1e1e1e" stroke-width="1.3"/>
<line x1="204.9" y1="289" x2="208.1" y2="289" stroke="#1e1e1e" stroke-width="1.1"/>
<text x="201.5" y="292" font-size="8.4" text-anchor="end" fill="#1e1e1e" stroke="#1e1e1e" stroke-width="0.22">0</text>
<line x1="204.9" y1="269.7" x2="208.1" y2="269.7" stroke="#1e1e1e" stroke-width="1.1"/>
<text x="201.5" y="272.7" font-size="8.4" text-anchor="end" fill="#1e1e1e" stroke="#1e1e1e" stroke-width="0.22">2</text>
<line x1="204.9" y1="250.4" x2="208.1" y2="250.4" stroke="#1e1e1e" stroke-width="1.1"/>
<text x="201.5" y="253.4" font-size="8.4" text-anchor="end" fill="#1e1e1e" stroke="#1e1e1e" stroke-width="0.22">4</text>
<line x1="204.9" y1="231.1" x2="208.1" y2="231.1" stroke="#1e1e1e" stroke-width="1.1"/>
<text x="201.5" y="234.1" font-size="8.4" text-anchor="end" fill="#1e1e1e" stroke="#1e1e1e" stroke-width="0.22">6</text>
<line x1="204.9" y1="211.8" x2="208.1" y2="211.8" stroke="#1e1e1e" stroke-width="1.1"/>
<text x="201.5" y="214.8" font-size="8.4" text-anchor="end" fill="#1e1e1e" stroke="#1e1e1e" stroke-width="0.22">8</text>
<line x1="217.3" y1="289" x2="217.3" y2="292" stroke="#1e1e1e" stroke-width="1.1"/>
<text x="217.3" y="302.5" font-size="8.4" text-anchor="middle" fill="#1e1e1e" stroke="#1e1e1e" stroke-width="0.22">0</text>
<line x1="235.8" y1="289" x2="235.8" y2="292" stroke="#1e1e1e" stroke-width="1.1"/>
<text x="235.8" y="302.5" font-size="8.4" text-anchor="middle" fill="#1e1e1e" stroke="#1e1e1e" stroke-width="0.22">4</text>
<line x1="254.3" y1="289" x2="254.3" y2="292" stroke="#1e1e1e" stroke-width="1.1"/>
<text x="254.3" y="302.5" font-size="8.4" text-anchor="middle" fill="#1e1e1e" stroke="#1e1e1e" stroke-width="0.22">8</text>
<line x1="272.8" y1="289" x2="272.8" y2="292" stroke="#1e1e1e" stroke-width="1.1"/>
<text x="272.8" y="302.5" font-size="8.4" text-anchor="middle" fill="#1e1e1e" stroke="#1e1e1e" stroke-width="0.22">12</text>
<line x1="291.3" y1="289" x2="291.3" y2="292" stroke="#1e1e1e" stroke-width="1.1"/>
<text x="291.3" y="302.5" font-size="8.4" text-anchor="middle" fill="#1e1e1e" stroke="#1e1e1e" stroke-width="0.22">16</text>
<line x1="309.8" y1="289" x2="309.8" y2="292" stroke="#1e1e1e" stroke-width="1.1"/>
<text x="309.8" y="302.5" font-size="8.4" text-anchor="middle" fill="#1e1e1e" stroke="#1e1e1e" stroke-width="0.22">20</text>
<line x1="328.3" y1="289" x2="328.3" y2="292" stroke="#1e1e1e" stroke-width="1.1"/>
<text x="328.3" y="302.5" font-size="8.4" text-anchor="middle" fill="#1e1e1e" stroke="#1e1e1e" stroke-width="0.22">24</text>
<circle cx="254.3" cy="252" r="1.15" fill="#141414"/>
<circle cx="272.8" cy="243.5" r="1.15" fill="#141414"/>
<circle cx="291.3" cy="226.5" r="1.15" fill="#141414"/>
<circle cx="309.8" cy="208" r="1.15" fill="#141414"/>
<circle cx="328.3" cy="203.9" r="1.15" fill="#141414"/>
<text x="272" y="195.2" font-size="10" text-anchor="middle" fill="#1e1e1e" stroke="#1e1e1e" stroke-width="0.22">Plts (&#215; 10<tspan font-size="7" dy="-3.5">-12</tspan><tspan dy="3.5">/L)</tspan></text>
<rect x="381.6" y="279.43" width="130.4" height="6.96" fill="#c8c8cb"/>
<polyline points="391,287.69 409.5,287.69 428,284.43 446.5,286.82 465,286.39 483.5,287.26 502,286.39" fill="none" stroke="#ad143e" stroke-width="1.6" stroke-linejoin="round"/>
<circle cx="391" cy="287.69" r="1.4" fill="#ad143e"/>
<circle cx="409.5" cy="287.69" r="1.4" fill="#ad143e"/>
<circle cx="428" cy="284.43" r="1.4" fill="#ad143e"/>
<circle cx="446.5" cy="286.82" r="1.4" fill="#ad143e"/>
<circle cx="465" cy="286.39" r="1.4" fill="#ad143e"/>
<circle cx="483.5" cy="287.26" r="1.4" fill="#ad143e"/>
<circle cx="502" cy="286.39" r="1.4" fill="#ad143e"/>
<polyline points="391,287.69 409.5,287.48 428,287.48 446.5,286.82 465,285.95 483.5,287.48 502,286.82" fill="none" stroke="#141414" stroke-width="1.6" stroke-linejoin="round"/>
<circle cx="391" cy="287.69" r="1.5" fill="#141414"/>
<circle cx="409.5" cy="287.48" r="1.5" fill="#141414"/>
<circle cx="428" cy="287.48" r="1.5" fill="#141414"/>
<circle cx="446.5" cy="286.82" r="1.5" fill="#141414"/>
<circle cx="465" cy="285.95" r="1.5" fill="#141414"/>
<circle cx="483.5" cy="287.48" r="1.5" fill="#141414"/>
<circle cx="502" cy="286.82" r="1.5" fill="#141414"/>
<polyline points="391,281.17 409.5,281.61 428,272.47 446.5,245.5 465,252.9 483.5,240.72 502,221.57" fill="none" stroke="#355583" stroke-width="1.6" stroke-linejoin="round"/>
<line x1="391" y1="283.78" x2="391" y2="278.56" stroke="#355583" stroke-width="1.1"/>
<line x1="389.2" y1="283.78" x2="392.8" y2="283.78" stroke="#355583" stroke-width="1.2"/>
<line x1="389.2" y1="278.56" x2="392.8" y2="278.56" stroke="#355583" stroke-width="1.2"/>
<line x1="428" y1="275.51" x2="428" y2="268.99" stroke="#355583" stroke-width="1.1"/>
<line x1="426.2" y1="275.51" x2="429.8" y2="275.51" stroke="#355583" stroke-width="1.2"/>
<line x1="426.2" y1="268.99" x2="429.8" y2="268.99" stroke="#355583" stroke-width="1.2"/>
<line x1="446.5" y1="260.29" x2="446.5" y2="231.15" stroke="#355583" stroke-width="1.1"/>
<line x1="444.7" y1="260.29" x2="448.3" y2="260.29" stroke="#355583" stroke-width="1.2"/>
<line x1="444.7" y1="231.15" x2="448.3" y2="231.15" stroke="#355583" stroke-width="1.2"/>
<line x1="465" y1="259.86" x2="465" y2="245.94" stroke="#355583" stroke-width="1.1"/>
<line x1="463.2" y1="259.86" x2="466.8" y2="259.86" stroke="#355583" stroke-width="1.2"/>
<line x1="463.2" y1="245.94" x2="466.8" y2="245.94" stroke="#355583" stroke-width="1.2"/>
<line x1="483.5" y1="258.12" x2="483.5" y2="223.75" stroke="#355583" stroke-width="1.1"/>
<line x1="481.7" y1="258.12" x2="485.3" y2="258.12" stroke="#355583" stroke-width="1.2"/>
<line x1="481.7" y1="223.75" x2="485.3" y2="223.75" stroke="#355583" stroke-width="1.2"/>
<line x1="502" y1="237.67" x2="502" y2="205.92" stroke="#355583" stroke-width="1.1"/>
<line x1="500.2" y1="237.67" x2="503.8" y2="237.67" stroke="#355583" stroke-width="1.2"/>
<line x1="500.2" y1="205.92" x2="503.8" y2="205.92" stroke="#355583" stroke-width="1.2"/>
<circle cx="391" cy="281.17" r="1.5" fill="#355583"/>
<circle cx="409.5" cy="281.61" r="1.5" fill="#355583"/>
<circle cx="428" cy="272.47" r="1.5" fill="#355583"/>
<circle cx="446.5" cy="245.5" r="1.5" fill="#355583"/>
<circle cx="465" cy="252.9" r="1.5" fill="#355583"/>
<circle cx="483.5" cy="240.72" r="1.5" fill="#355583"/>
<circle cx="502" cy="221.57" r="1.5" fill="#355583"/>
<line x1="381.6" y1="200.5" x2="381.6" y2="289.6" stroke="#1e1e1e" stroke-width="1.2"/>
<line x1="381" y1="289.25" x2="511" y2="289.25" stroke="#1e1e1e" stroke-width="1.3"/>
<line x1="378.4" y1="289" x2="381.6" y2="289" stroke="#1e1e1e" stroke-width="1.1"/>
<text x="375.4" y="292" font-size="8.4" text-anchor="end" fill="#1e1e1e" stroke="#1e1e1e" stroke-width="0.22">0</text>
<line x1="378.4" y1="267.25" x2="381.6" y2="267.25" stroke="#1e1e1e" stroke-width="1.1"/>
<text x="375.4" y="270.25" font-size="8.4" text-anchor="end" fill="#1e1e1e" stroke="#1e1e1e" stroke-width="0.22">5</text>
<line x1="378.4" y1="245.5" x2="381.6" y2="245.5" stroke="#1e1e1e" stroke-width="1.1"/>
<text x="375.4" y="248.5" font-size="8.4" text-anchor="end" fill="#1e1e1e" stroke="#1e1e1e" stroke-width="0.22">10</text>
<line x1="378.4" y1="223.75" x2="381.6" y2="223.75" stroke="#1e1e1e" stroke-width="1.1"/>
<text x="375.4" y="226.75" font-size="8.4" text-anchor="end" fill="#1e1e1e" stroke="#1e1e1e" stroke-width="0.22">15</text>
<line x1="378.4" y1="202" x2="381.6" y2="202" stroke="#1e1e1e" stroke-width="1.1"/>
<text x="375.4" y="205" font-size="8.4" text-anchor="end" fill="#1e1e1e" stroke="#1e1e1e" stroke-width="0.22">20</text>
<line x1="391" y1="289" x2="391" y2="292" stroke="#1e1e1e" stroke-width="1.1"/>
<text x="391" y="302.5" font-size="8.4" text-anchor="middle" fill="#1e1e1e" stroke="#1e1e1e" stroke-width="0.22">0</text>
<line x1="409.5" y1="289" x2="409.5" y2="292" stroke="#1e1e1e" stroke-width="1.1"/>
<text x="409.5" y="302.5" font-size="8.4" text-anchor="middle" fill="#1e1e1e" stroke="#1e1e1e" stroke-width="0.22">4</text>
<line x1="428" y1="289" x2="428" y2="292" stroke="#1e1e1e" stroke-width="1.1"/>
<text x="428" y="302.5" font-size="8.4" text-anchor="middle" fill="#1e1e1e" stroke="#1e1e1e" stroke-width="0.22">8</text>
<line x1="446.5" y1="289" x2="446.5" y2="292" stroke="#1e1e1e" stroke-width="1.1"/>
<text x="446.5" y="302.5" font-size="8.4" text-anchor="middle" fill="#1e1e1e" stroke="#1e1e1e" stroke-width="0.22">12</text>
<line x1="465" y1="289" x2="465" y2="292" stroke="#1e1e1e" stroke-width="1.1"/>
<text x="465" y="302.5" font-size="8.4" text-anchor="middle" fill="#1e1e1e" stroke="#1e1e1e" stroke-width="0.22">16</text>
<line x1="483.5" y1="289" x2="483.5" y2="292" stroke="#1e1e1e" stroke-width="1.1"/>
<text x="483.5" y="302.5" font-size="8.4" text-anchor="middle" fill="#1e1e1e" stroke="#1e1e1e" stroke-width="0.22">20</text>
<line x1="502" y1="289" x2="502" y2="292" stroke="#1e1e1e" stroke-width="1.1"/>
<text x="502" y="302.5" font-size="8.4" text-anchor="middle" fill="#1e1e1e" stroke="#1e1e1e" stroke-width="0.22">24</text>
<circle cx="446.5" cy="224" r="1.15" fill="#141414"/>
<circle cx="465" cy="240.2" r="1.15" fill="#141414"/>
<circle cx="483.5" cy="218.4" r="1.15" fill="#141414"/>
<circle cx="502" cy="199.6" r="1.15" fill="#141414"/>
<text x="446.5" y="195.2" font-size="10" text-anchor="middle" fill="#1e1e1e" stroke="#1e1e1e" stroke-width="0.22">Neutrophils (&#215; 10<tspan font-size="7" dy="-3.5">-9</tspan><tspan dy="3.5">/L)</tspan></text>
<rect x="27.4" y="534.96" width="129" height="16.05" fill="#c8c8cb"/>
<polyline points="38.6,542.7 60.05,543.85 81.5,541.27 102.95,539.26 124.4,539.26 145.85,539.83" fill="none" stroke="#141414" stroke-width="1.8" stroke-linejoin="round"/>
<circle cx="38.6" cy="542.7" r="1.8" fill="#141414"/>
<circle cx="60.05" cy="543.85" r="1.8" fill="#141414"/>
<circle cx="81.5" cy="541.27" r="1.8" fill="#141414"/>
<circle cx="102.95" cy="539.26" r="1.8" fill="#141414"/>
<circle cx="124.4" cy="539.26" r="1.8" fill="#141414"/>
<circle cx="145.85" cy="539.83" r="1.8" fill="#141414"/>
<polyline points="38.6,528.37 60.05,522.63 81.5,526.65 102.95,539.55 124.4,541.84 145.85,544.42" fill="none" stroke="#355583" stroke-width="1.8" stroke-linejoin="round"/>
<circle cx="38.6" cy="528.37" r="1.8" fill="#355583"/>
<circle cx="60.05" cy="522.63" r="1.8" fill="#355583"/>
<circle cx="81.5" cy="526.65" r="1.8" fill="#355583"/>
<circle cx="102.95" cy="539.55" r="1.8" fill="#355583"/>
<circle cx="124.4" cy="541.84" r="1.8" fill="#355583"/>
<circle cx="145.85" cy="544.42" r="1.8" fill="#355583"/>
<polyline points="38.6,535.82 60.05,529.23 81.5,526.65 102.95,523.78 124.4,525.21 145.85,526.93" fill="none" stroke="#ad143e" stroke-width="1.8" stroke-linejoin="round"/>
<line x1="60.05" y1="533.24" x2="60.05" y2="524.64" stroke="#ad143e" stroke-width="1.1"/>
<line x1="58.25" y1="533.24" x2="61.85" y2="533.24" stroke="#ad143e" stroke-width="1.2"/>
<line x1="58.25" y1="524.64" x2="61.85" y2="524.64" stroke="#ad143e" stroke-width="1.2"/>
<line x1="102.95" y1="525.21" x2="102.95" y2="522.35" stroke="#ad143e" stroke-width="1.1"/>
<line x1="101.15" y1="525.21" x2="104.75" y2="525.21" stroke="#ad143e" stroke-width="1.2"/>
<line x1="101.15" y1="522.35" x2="104.75" y2="522.35" stroke="#ad143e" stroke-width="1.2"/>
<line x1="124.4" y1="526.93" x2="124.4" y2="523.49" stroke="#ad143e" stroke-width="1.1"/>
<line x1="122.6" y1="526.93" x2="126.2" y2="526.93" stroke="#ad143e" stroke-width="1.2"/>
<line x1="122.6" y1="523.49" x2="126.2" y2="523.49" stroke="#ad143e" stroke-width="1.2"/>
<circle cx="38.6" cy="535.82" r="1.8" fill="#ad143e"/>
<circle cx="60.05" cy="529.23" r="1.8" fill="#ad143e"/>
<circle cx="81.5" cy="526.65" r="1.8" fill="#ad143e"/>
<circle cx="102.95" cy="523.78" r="1.8" fill="#ad143e"/>
<circle cx="124.4" cy="525.21" r="1.8" fill="#ad143e"/>
<circle cx="145.85" cy="526.93" r="1.8" fill="#ad143e"/>
<line x1="27.4" y1="492.5" x2="27.4" y2="582" stroke="#1e1e1e" stroke-width="1.2"/>
<line x1="26.8" y1="581.65" x2="156.4" y2="581.65" stroke="#1e1e1e" stroke-width="1.3"/>
<line x1="24.2" y1="581.4" x2="27.4" y2="581.4" stroke="#1e1e1e" stroke-width="1.1"/>
<text x="21.2" y="584.4" font-size="8.4" text-anchor="end" fill="#1e1e1e" stroke="#1e1e1e" stroke-width="0.22">0</text>
<line x1="24.2" y1="567.07" x2="27.4" y2="567.07" stroke="#1e1e1e" stroke-width="1.1"/>
<line x1="24.2" y1="552.73" x2="27.4" y2="552.73" stroke="#1e1e1e" stroke-width="1.1"/>
<text x="21.2" y="555.73" font-size="8.4" text-anchor="end" fill="#1e1e1e" stroke="#1e1e1e" stroke-width="0.22">100</text>
<line x1="24.2" y1="538.4" x2="27.4" y2="538.4" stroke="#1e1e1e" stroke-width="1.1"/>
<line x1="24.2" y1="524.07" x2="27.4" y2="524.07" stroke="#1e1e1e" stroke-width="1.1"/>
<text x="21.2" y="527.07" font-size="8.4" text-anchor="end" fill="#1e1e1e" stroke="#1e1e1e" stroke-width="0.22">200</text>
<line x1="24.2" y1="509.73" x2="27.4" y2="509.73" stroke="#1e1e1e" stroke-width="1.1"/>
<line x1="24.2" y1="495.4" x2="27.4" y2="495.4" stroke="#1e1e1e" stroke-width="1.1"/>
<text x="21.2" y="498.4" font-size="8.4" text-anchor="end" fill="#1e1e1e" stroke="#1e1e1e" stroke-width="0.22">300</text>
<line x1="38.6" y1="581.4" x2="38.6" y2="584.4" stroke="#1e1e1e" stroke-width="1.1"/>
<text x="38.6" y="594.9" font-size="8.4" text-anchor="middle" fill="#1e1e1e" stroke="#1e1e1e" stroke-width="0.22">4</text>
<line x1="60.05" y1="581.4" x2="60.05" y2="584.4" stroke="#1e1e1e" stroke-width="1.1"/>
<text x="60.05" y="594.9" font-size="8.4" text-anchor="middle" fill="#1e1e1e" stroke="#1e1e1e" stroke-width="0.22">10</text>
<line x1="81.5" y1="581.4" x2="81.5" y2="584.4" stroke="#1e1e1e" stroke-width="1.1"/>
<text x="81.5" y="594.9" font-size="8.4" text-anchor="middle" fill="#1e1e1e" stroke="#1e1e1e" stroke-width="0.22">14</text>
<line x1="102.95" y1="581.4" x2="102.95" y2="584.4" stroke="#1e1e1e" stroke-width="1.1"/>
<text x="102.95" y="594.9" font-size="8.4" text-anchor="middle" fill="#1e1e1e" stroke="#1e1e1e" stroke-width="0.22">18</text>
<line x1="124.4" y1="581.4" x2="124.4" y2="584.4" stroke="#1e1e1e" stroke-width="1.1"/>
<text x="124.4" y="594.9" font-size="8.4" text-anchor="middle" fill="#1e1e1e" stroke="#1e1e1e" stroke-width="0.22">22</text>
<line x1="145.85" y1="581.4" x2="145.85" y2="584.4" stroke="#1e1e1e" stroke-width="1.1"/>
<text x="145.85" y="594.9" font-size="8.4" text-anchor="middle" fill="#1e1e1e" stroke="#1e1e1e" stroke-width="0.22">26</text>
<circle cx="38.6" cy="518.3" r="1.3" fill="#141414"/>
<circle cx="60.05" cy="514.8" r="1.3" fill="#141414"/>
<circle cx="81.5" cy="518" r="1.3" fill="#141414"/>
<circle cx="102.95" cy="515.1" r="1.3" fill="#141414"/>
<circle cx="124.4" cy="515.1" r="1.3" fill="#141414"/>
<circle cx="145.85" cy="516.2" r="1.3" fill="#141414"/>
<circle cx="65.95" cy="532.3" r="1.3" fill="#141414"/>
<text x="92" y="487.6" font-size="10" text-anchor="middle" fill="#1e1e1e" stroke="#1e1e1e" stroke-width="0.22">Hb (g/L)</text>
<rect x="208.2" y="536.89" width="129.1" height="16.99" fill="#c8c8cb"/>
<polyline points="218.8,547.86 240.25,542.27 261.7,547.43 283.15,551.3 304.6,548.29 326.05,547" fill="none" stroke="#141414" stroke-width="1.8" stroke-linejoin="round"/>
<circle cx="218.8" cy="547.86" r="1.6" fill="#141414"/>
<circle cx="240.25" cy="542.27" r="1.6" fill="#141414"/>
<circle cx="261.7" cy="547.43" r="1.6" fill="#141414"/>
<circle cx="283.15" cy="551.3" r="1.6" fill="#141414"/>
<circle cx="304.6" cy="548.29" r="1.6" fill="#141414"/>
<circle cx="326.05" cy="547" r="1.6" fill="#141414"/>
<polyline points="218.8,525.93 240.25,525.07 261.7,533.67 283.15,529.8 304.6,537.11 326.05,537.97" fill="none" stroke="#355583" stroke-width="1.8" stroke-linejoin="round"/>
<line x1="240.25" y1="526.79" x2="240.25" y2="523.35" stroke="#355583" stroke-width="1.1"/>
<line x1="238.45" y1="526.79" x2="242.05" y2="526.79" stroke="#355583" stroke-width="1.2"/>
<line x1="238.45" y1="523.35" x2="242.05" y2="523.35" stroke="#355583" stroke-width="1.2"/>
<line x1="261.7" y1="535.39" x2="261.7" y2="531.95" stroke="#355583" stroke-width="1.1"/>
<line x1="259.9" y1="535.39" x2="263.5" y2="535.39" stroke="#355583" stroke-width="1.2"/>
<line x1="259.9" y1="531.95" x2="263.5" y2="531.95" stroke="#355583" stroke-width="1.2"/>
<line x1="283.15" y1="531.52" x2="283.15" y2="527.65" stroke="#355583" stroke-width="1.1"/>
<line x1="281.35" y1="531.52" x2="284.95" y2="531.52" stroke="#355583" stroke-width="1.2"/>
<line x1="281.35" y1="527.65" x2="284.95" y2="527.65" stroke="#355583" stroke-width="1.2"/>
<line x1="304.6" y1="540.55" x2="304.6" y2="532.81" stroke="#355583" stroke-width="1.1"/>
<line x1="302.8" y1="540.55" x2="306.4" y2="540.55" stroke="#355583" stroke-width="1.2"/>
<line x1="302.8" y1="532.81" x2="306.4" y2="532.81" stroke="#355583" stroke-width="1.2"/>
<line x1="326.05" y1="542.27" x2="326.05" y2="533.67" stroke="#355583" stroke-width="1.1"/>
<line x1="324.25" y1="542.27" x2="327.85" y2="542.27" stroke="#355583" stroke-width="1.2"/>
<line x1="324.25" y1="533.67" x2="327.85" y2="533.67" stroke="#355583" stroke-width="1.2"/>
<rect x="217.1" y="524.23" width="3.4" height="3.4" fill="#355583"/>
<rect x="238.55" y="523.37" width="3.4" height="3.4" fill="#355583"/>
<rect x="260" y="531.97" width="3.4" height="3.4" fill="#355583"/>
<rect x="281.45" y="528.1" width="3.4" height="3.4" fill="#355583"/>
<rect x="302.9" y="535.41" width="3.4" height="3.4" fill="#355583"/>
<rect x="324.35" y="536.27" width="3.4" height="3.4" fill="#355583"/>
<polyline points="218.8,530.23 240.25,510.88 261.7,515.61 283.15,514.97 304.6,514.32 326.05,518.62" fill="none" stroke="#ad143e" stroke-width="1.8" stroke-linejoin="round"/>
<line x1="240.25" y1="517.76" x2="240.25" y2="503.14" stroke="#ad143e" stroke-width="1.1"/>
<line x1="238.45" y1="517.76" x2="242.05" y2="517.76" stroke="#ad143e" stroke-width="1.2"/>
<line x1="238.45" y1="503.14" x2="242.05" y2="503.14" stroke="#ad143e" stroke-width="1.2"/>
<line x1="261.7" y1="519.48" x2="261.7" y2="510.88" stroke="#ad143e" stroke-width="1.1"/>
<line x1="259.9" y1="519.48" x2="263.5" y2="519.48" stroke="#ad143e" stroke-width="1.2"/>
<line x1="259.9" y1="510.88" x2="263.5" y2="510.88" stroke="#ad143e" stroke-width="1.2"/>
<line x1="283.15" y1="517.76" x2="283.15" y2="512.17" stroke="#ad143e" stroke-width="1.1"/>
<line x1="281.35" y1="517.76" x2="284.95" y2="517.76" stroke="#ad143e" stroke-width="1.2"/>
<line x1="281.35" y1="512.17" x2="284.95" y2="512.17" stroke="#ad143e" stroke-width="1.2"/>
<line x1="304.6" y1="519.05" x2="304.6" y2="509.59" stroke="#ad143e" stroke-width="1.1"/>
<line x1="302.8" y1="519.05" x2="306.4" y2="519.05" stroke="#ad143e" stroke-width="1.2"/>
<line x1="302.8" y1="509.59" x2="306.4" y2="509.59" stroke="#ad143e" stroke-width="1.2"/>
<line x1="326.05" y1="522.49" x2="326.05" y2="513.03" stroke="#ad143e" stroke-width="1.1"/>
<line x1="324.25" y1="522.49" x2="327.85" y2="522.49" stroke="#ad143e" stroke-width="1.2"/>
<line x1="324.25" y1="513.03" x2="327.85" y2="513.03" stroke="#ad143e" stroke-width="1.2"/>
<circle cx="218.8" cy="530.23" r="1.6" fill="#ad143e"/>
<circle cx="240.25" cy="510.88" r="1.6" fill="#ad143e"/>
<circle cx="261.7" cy="515.61" r="1.6" fill="#ad143e"/>
<circle cx="283.15" cy="514.97" r="1.6" fill="#ad143e"/>
<circle cx="304.6" cy="514.32" r="1.6" fill="#ad143e"/>
<circle cx="326.05" cy="518.62" r="1.6" fill="#ad143e"/>
<line x1="208.2" y1="492.5" x2="208.2" y2="582" stroke="#1e1e1e" stroke-width="1.2"/>
<line x1="207.6" y1="581.65" x2="337.3" y2="581.65" stroke="#1e1e1e" stroke-width="1.3"/>
<line x1="205" y1="581.4" x2="208.2" y2="581.4" stroke="#1e1e1e" stroke-width="1.1"/>
<text x="201.6" y="584.4" font-size="8.4" text-anchor="end" fill="#1e1e1e" stroke="#1e1e1e" stroke-width="0.22">0</text>
<line x1="205" y1="559.9" x2="208.2" y2="559.9" stroke="#1e1e1e" stroke-width="1.1"/>
<text x="201.6" y="562.9" font-size="8.4" text-anchor="end" fill="#1e1e1e" stroke="#1e1e1e" stroke-width="0.22">5</text>
<line x1="205" y1="538.4" x2="208.2" y2="538.4" stroke="#1e1e1e" stroke-width="1.1"/>
<text x="201.6" y="541.4" font-size="8.4" text-anchor="end" fill="#1e1e1e" stroke="#1e1e1e" stroke-width="0.22">10</text>
<line x1="205" y1="516.9" x2="208.2" y2="516.9" stroke="#1e1e1e" stroke-width="1.1"/>
<text x="201.6" y="519.9" font-size="8.4" text-anchor="end" fill="#1e1e1e" stroke="#1e1e1e" stroke-width="0.22">15</text>
<line x1="205" y1="495.4" x2="208.2" y2="495.4" stroke="#1e1e1e" stroke-width="1.1"/>
<text x="201.6" y="498.4" font-size="8.4" text-anchor="end" fill="#1e1e1e" stroke="#1e1e1e" stroke-width="0.22">20</text>
<line x1="218.8" y1="581.4" x2="218.8" y2="584.4" stroke="#1e1e1e" stroke-width="1.1"/>
<text x="218.8" y="594.9" font-size="8.4" text-anchor="middle" fill="#1e1e1e" stroke="#1e1e1e" stroke-width="0.22">4</text>
<line x1="240.25" y1="581.4" x2="240.25" y2="584.4" stroke="#1e1e1e" stroke-width="1.1"/>
<text x="240.25" y="594.9" font-size="8.4" text-anchor="middle" fill="#1e1e1e" stroke="#1e1e1e" stroke-width="0.22">10</text>
<line x1="261.7" y1="581.4" x2="261.7" y2="584.4" stroke="#1e1e1e" stroke-width="1.1"/>
<text x="261.7" y="594.9" font-size="8.4" text-anchor="middle" fill="#1e1e1e" stroke="#1e1e1e" stroke-width="0.22">14</text>
<line x1="283.15" y1="581.4" x2="283.15" y2="584.4" stroke="#1e1e1e" stroke-width="1.1"/>
<text x="283.15" y="594.9" font-size="8.4" text-anchor="middle" fill="#1e1e1e" stroke="#1e1e1e" stroke-width="0.22">18</text>
<line x1="304.6" y1="581.4" x2="304.6" y2="584.4" stroke="#1e1e1e" stroke-width="1.1"/>
<text x="304.6" y="594.9" font-size="8.4" text-anchor="middle" fill="#1e1e1e" stroke="#1e1e1e" stroke-width="0.22">22</text>
<line x1="326.05" y1="581.4" x2="326.05" y2="584.4" stroke="#1e1e1e" stroke-width="1.1"/>
<text x="326.05" y="594.9" font-size="8.4" text-anchor="middle" fill="#1e1e1e" stroke="#1e1e1e" stroke-width="0.22">26</text>
<circle cx="218.8" cy="517.5" r="1.2" fill="#141414"/>
<circle cx="240.25" cy="496.7" r="1.2" fill="#141414"/>
<circle cx="240.25" cy="530.9" r="1.2" fill="#141414"/>
<circle cx="261.7" cy="501.6" r="1.2" fill="#141414"/>
<circle cx="261.7" cy="526.3" r="1.2" fill="#141414"/>
<circle cx="283.15" cy="501.3" r="1.2" fill="#141414"/>
<circle cx="283.15" cy="523.1" r="1.2" fill="#141414"/>
<circle cx="304.6" cy="499.4" r="1.2" fill="#141414"/>
<circle cx="326.05" cy="502.1" r="1.2" fill="#141414"/>
<text x="273" y="488.6" font-size="10" text-anchor="middle" fill="#1e1e1e" stroke="#1e1e1e" stroke-width="0.22">RBC (&#215; 10<tspan font-size="7" dy="-3.5">-12</tspan><tspan dy="3.5">/L)</tspan></text>
<rect x="381.2" y="560.2" width="129.8" height="15.61" fill="#c8c8cb"/>
<polyline points="392.5,563.38 413.95,568.8 435.4,570.91 456.85,569.92 478.3,571.21 499.75,571.21" fill="none" stroke="#141414" stroke-width="1.8" stroke-linejoin="round"/>
<circle cx="392.5" cy="563.38" r="1.6" fill="#141414"/>
<circle cx="413.95" cy="568.8" r="1.6" fill="#141414"/>
<circle cx="435.4" cy="570.91" r="1.6" fill="#141414"/>
<circle cx="456.85" cy="569.92" r="1.6" fill="#141414"/>
<circle cx="478.3" cy="571.21" r="1.6" fill="#141414"/>
<circle cx="499.75" cy="571.21" r="1.6" fill="#141414"/>
<polyline points="392.5,543.69 413.95,559.38 435.4,560.72 456.85,560.2 478.3,566.61 499.75,564.2" fill="none" stroke="#355583" stroke-width="1.8" stroke-linejoin="round"/>
<line x1="392.5" y1="546.14" x2="392.5" y2="540.98" stroke="#355583" stroke-width="1.1"/>
<line x1="390.7" y1="546.14" x2="394.3" y2="546.14" stroke="#355583" stroke-width="1.2"/>
<line x1="390.7" y1="540.98" x2="394.3" y2="540.98" stroke="#355583" stroke-width="1.2"/>
<line x1="413.95" y1="562.48" x2="413.95" y2="555.6" stroke="#355583" stroke-width="1.1"/>
<line x1="412.15" y1="562.48" x2="415.75" y2="562.48" stroke="#355583" stroke-width="1.2"/>
<line x1="412.15" y1="555.6" x2="415.75" y2="555.6" stroke="#355583" stroke-width="1.2"/>
<line x1="435.4" y1="563.34" x2="435.4" y2="557.75" stroke="#355583" stroke-width="1.1"/>
<line x1="433.6" y1="563.34" x2="437.2" y2="563.34" stroke="#355583" stroke-width="1.2"/>
<line x1="433.6" y1="557.75" x2="437.2" y2="557.75" stroke="#355583" stroke-width="1.2"/>
<line x1="456.85" y1="563.77" x2="456.85" y2="556.03" stroke="#355583" stroke-width="1.1"/>
<line x1="455.05" y1="563.77" x2="458.65" y2="563.77" stroke="#355583" stroke-width="1.2"/>
<line x1="455.05" y1="556.03" x2="458.65" y2="556.03" stroke="#355583" stroke-width="1.2"/>
<line x1="478.3" y1="569.36" x2="478.3" y2="563.34" stroke="#355583" stroke-width="1.1"/>
<line x1="476.5" y1="569.36" x2="480.1" y2="569.36" stroke="#355583" stroke-width="1.2"/>
<line x1="476.5" y1="563.34" x2="480.1" y2="563.34" stroke="#355583" stroke-width="1.2"/>
<line x1="499.75" y1="567.64" x2="499.75" y2="560.76" stroke="#355583" stroke-width="1.1"/>
<line x1="497.95" y1="567.64" x2="501.55" y2="567.64" stroke="#355583" stroke-width="1.2"/>
<line x1="497.95" y1="560.76" x2="501.55" y2="560.76" stroke="#355583" stroke-width="1.2"/>
<circle cx="392.5" cy="543.69" r="1.6" fill="#355583"/>
<circle cx="413.95" cy="559.38" r="1.6" fill="#355583"/>
<circle cx="435.4" cy="560.72" r="1.6" fill="#355583"/>
<circle cx="456.85" cy="560.2" r="1.6" fill="#355583"/>
<circle cx="478.3" cy="566.61" r="1.6" fill="#355583"/>
<circle cx="499.75" cy="564.2" r="1.6" fill="#355583"/>
<polyline points="392.5,535.09 413.95,548.59 435.4,541.28 456.85,534.31 478.3,539.99 499.75,547.99" fill="none" stroke="#ad143e" stroke-width="1.8" stroke-linejoin="round"/>
<line x1="392.5" y1="540.55" x2="392.5" y2="529.8" stroke="#ad143e" stroke-width="1.1"/>
<line x1="390.7" y1="540.55" x2="394.3" y2="540.55" stroke="#ad143e" stroke-width="1.2"/>
<line x1="390.7" y1="529.8" x2="394.3" y2="529.8" stroke="#ad143e" stroke-width="1.2"/>
<line x1="413.95" y1="553.88" x2="413.95" y2="543.13" stroke="#ad143e" stroke-width="1.1"/>
<line x1="412.15" y1="553.88" x2="415.75" y2="553.88" stroke="#ad143e" stroke-width="1.2"/>
<line x1="412.15" y1="543.13" x2="415.75" y2="543.13" stroke="#ad143e" stroke-width="1.2"/>
<line x1="435.4" y1="545.71" x2="435.4" y2="536.25" stroke="#ad143e" stroke-width="1.1"/>
<line x1="433.6" y1="545.71" x2="437.2" y2="545.71" stroke="#ad143e" stroke-width="1.2"/>
<line x1="433.6" y1="536.25" x2="437.2" y2="536.25" stroke="#ad143e" stroke-width="1.2"/>
<line x1="456.85" y1="539.69" x2="456.85" y2="528.51" stroke="#ad143e" stroke-width="1.1"/>
<line x1="455.05" y1="539.69" x2="458.65" y2="539.69" stroke="#ad143e" stroke-width="1.2"/>
<line x1="455.05" y1="528.51" x2="458.65" y2="528.51" stroke="#ad143e" stroke-width="1.2"/>
<line x1="478.3" y1="548.72" x2="478.3" y2="531.52" stroke="#ad143e" stroke-width="1.1"/>
<line x1="476.5" y1="548.72" x2="480.1" y2="548.72" stroke="#ad143e" stroke-width="1.2"/>
<line x1="476.5" y1="531.52" x2="480.1" y2="531.52" stroke="#ad143e" stroke-width="1.2"/>
<line x1="499.75" y1="556.46" x2="499.75" y2="540.55" stroke="#ad143e" stroke-width="1.1"/>
<line x1="497.95" y1="556.46" x2="501.55" y2="556.46" stroke="#ad143e" stroke-width="1.2"/>
<line x1="497.95" y1="540.55" x2="501.55" y2="540.55" stroke="#ad143e" stroke-width="1.2"/>
<circle cx="392.5" cy="535.09" r="1.7" fill="#ad143e"/>
<circle cx="413.95" cy="548.59" r="1.7" fill="#ad143e"/>
<circle cx="435.4" cy="541.28" r="1.7" fill="#ad143e"/>
<circle cx="456.85" cy="534.31" r="1.7" fill="#ad143e"/>
<circle cx="478.3" cy="539.99" r="1.7" fill="#ad143e"/>
<circle cx="499.75" cy="547.99" r="1.7" fill="#ad143e"/>
<line x1="381.2" y1="492.5" x2="381.2" y2="582" stroke="#1e1e1e" stroke-width="1.2"/>
<line x1="380.6" y1="581.65" x2="511" y2="581.65" stroke="#1e1e1e" stroke-width="1.3"/>
<line x1="378" y1="581.4" x2="381.2" y2="581.4" stroke="#1e1e1e" stroke-width="1.1"/>
<text x="375" y="584.4" font-size="8.4" text-anchor="end" fill="#1e1e1e" stroke="#1e1e1e" stroke-width="0.22">0</text>
<line x1="378" y1="559.9" x2="381.2" y2="559.9" stroke="#1e1e1e" stroke-width="1.1"/>
<line x1="378" y1="538.4" x2="381.2" y2="538.4" stroke="#1e1e1e" stroke-width="1.1"/>
<text x="375" y="541.4" font-size="8.4" text-anchor="end" fill="#1e1e1e" stroke="#1e1e1e" stroke-width="0.22">1000</text>
<line x1="378" y1="516.9" x2="381.2" y2="516.9" stroke="#1e1e1e" stroke-width="1.1"/>
<line x1="378" y1="495.4" x2="381.2" y2="495.4" stroke="#1e1e1e" stroke-width="1.1"/>
<text x="375" y="498.4" font-size="8.4" text-anchor="end" fill="#1e1e1e" stroke="#1e1e1e" stroke-width="0.22">2000</text>
<line x1="392.5" y1="581.4" x2="392.5" y2="584.4" stroke="#1e1e1e" stroke-width="1.1"/>
<text x="392.5" y="594.9" font-size="8.4" text-anchor="middle" fill="#1e1e1e" stroke="#1e1e1e" stroke-width="0.22">4</text>
<line x1="413.95" y1="581.4" x2="413.95" y2="584.4" stroke="#1e1e1e" stroke-width="1.1"/>
<text x="413.95" y="594.9" font-size="8.4" text-anchor="middle" fill="#1e1e1e" stroke="#1e1e1e" stroke-width="0.22">10</text>
<line x1="435.4" y1="581.4" x2="435.4" y2="584.4" stroke="#1e1e1e" stroke-width="1.1"/>
<text x="435.4" y="594.9" font-size="8.4" text-anchor="middle" fill="#1e1e1e" stroke="#1e1e1e" stroke-width="0.22">14</text>
<line x1="456.85" y1="581.4" x2="456.85" y2="584.4" stroke="#1e1e1e" stroke-width="1.1"/>
<text x="456.85" y="594.9" font-size="8.4" text-anchor="middle" fill="#1e1e1e" stroke="#1e1e1e" stroke-width="0.22">18</text>
<line x1="478.3" y1="581.4" x2="478.3" y2="584.4" stroke="#1e1e1e" stroke-width="1.1"/>
<text x="478.3" y="594.9" font-size="8.4" text-anchor="middle" fill="#1e1e1e" stroke="#1e1e1e" stroke-width="0.22">22</text>
<line x1="499.75" y1="581.4" x2="499.75" y2="584.4" stroke="#1e1e1e" stroke-width="1.1"/>
<text x="499.75" y="594.9" font-size="8.4" text-anchor="middle" fill="#1e1e1e" stroke="#1e1e1e" stroke-width="0.22">26</text>
<circle cx="392.5" cy="521.5" r="1.2" fill="#141414"/>
<circle cx="413.95" cy="533.6" r="1.2" fill="#141414"/>
<circle cx="435.4" cy="527.7" r="1.2" fill="#141414"/>
<circle cx="456.85" cy="518.3" r="1.2" fill="#141414"/>
<circle cx="478.3" cy="524.5" r="1.2" fill="#141414"/>
<circle cx="499.75" cy="530.4" r="1.2" fill="#141414"/>
<text x="446.5" y="488.6" font-size="10" text-anchor="middle" fill="#1e1e1e" stroke="#1e1e1e" stroke-width="0.22">Reticulocytes (&#215; 10<tspan font-size="7" dy="-3.5">-9</tspan><tspan dy="3.5">/L)</tspan></text>
<rect x="27.3" y="639.83" width="129.1" height="18.97" fill="#c8c8cb"/>
<polyline points="38.6,659.37 60.05,661.51 81.5,657.37 102.95,657.09 124.4,658.66 145.85,658.09" fill="none" stroke="#355583" stroke-width="1.7" stroke-linejoin="round"/>
<circle cx="38.6" cy="659.37" r="1.5" fill="#355583"/>
<circle cx="60.05" cy="661.51" r="1.5" fill="#355583"/>
<circle cx="81.5" cy="657.37" r="1.5" fill="#355583"/>
<circle cx="102.95" cy="657.09" r="1.5" fill="#355583"/>
<circle cx="124.4" cy="658.66" r="1.5" fill="#355583"/>
<circle cx="145.85" cy="658.09" r="1.5" fill="#355583"/>
<polyline points="38.6,653.24 60.05,654.66 81.5,651.1 102.95,647.67 124.4,650.24 145.85,651.95" fill="none" stroke="#141414" stroke-width="1.7" stroke-linejoin="round"/>
<circle cx="38.6" cy="653.24" r="1.7" fill="#141414"/>
<circle cx="60.05" cy="654.66" r="1.7" fill="#141414"/>
<circle cx="81.5" cy="651.1" r="1.7" fill="#141414"/>
<circle cx="102.95" cy="647.67" r="1.7" fill="#141414"/>
<circle cx="124.4" cy="650.24" r="1.7" fill="#141414"/>
<circle cx="145.85" cy="651.95" r="1.7" fill="#141414"/>
<polyline points="38.6,653.52 60.05,659.66 81.5,660.51 102.95,659.23 124.4,662.22 145.85,662.94" fill="none" stroke="#ad143e" stroke-width="1.7" stroke-linejoin="round"/>
<line x1="81.5" y1="662.79" x2="81.5" y2="658.23" stroke="#ad143e" stroke-width="1.1"/>
<line x1="79.7" y1="662.79" x2="83.3" y2="662.79" stroke="#ad143e" stroke-width="1.2"/>
<line x1="79.7" y1="658.23" x2="83.3" y2="658.23" stroke="#ad143e" stroke-width="1.2"/>
<line x1="102.95" y1="662.22" x2="102.95" y2="656.23" stroke="#ad143e" stroke-width="1.1"/>
<line x1="101.15" y1="662.22" x2="104.75" y2="662.22" stroke="#ad143e" stroke-width="1.2"/>
<line x1="101.15" y1="656.23" x2="104.75" y2="656.23" stroke="#ad143e" stroke-width="1.2"/>
<line x1="124.4" y1="664.79" x2="124.4" y2="659.66" stroke="#ad143e" stroke-width="1.1"/>
<line x1="122.6" y1="664.79" x2="126.2" y2="664.79" stroke="#ad143e" stroke-width="1.2"/>
<line x1="122.6" y1="659.66" x2="126.2" y2="659.66" stroke="#ad143e" stroke-width="1.2"/>
<line x1="145.85" y1="665.36" x2="145.85" y2="660.51" stroke="#ad143e" stroke-width="1.1"/>
<line x1="144.05" y1="665.36" x2="147.65" y2="665.36" stroke="#ad143e" stroke-width="1.2"/>
<line x1="144.05" y1="660.51" x2="147.65" y2="660.51" stroke="#ad143e" stroke-width="1.2"/>
<circle cx="38.6" cy="653.52" r="1.6" fill="#ad143e"/>
<circle cx="60.05" cy="659.66" r="1.6" fill="#ad143e"/>
<circle cx="81.5" cy="660.51" r="1.6" fill="#ad143e"/>
<circle cx="102.95" cy="659.23" r="1.6" fill="#ad143e"/>
<circle cx="124.4" cy="662.22" r="1.6" fill="#ad143e"/>
<circle cx="145.85" cy="662.94" r="1.6" fill="#ad143e"/>
<line x1="27.3" y1="634.6" x2="27.3" y2="723.6" stroke="#1e1e1e" stroke-width="1.2"/>
<line x1="26.7" y1="723.25" x2="156.4" y2="723.25" stroke="#1e1e1e" stroke-width="1.3"/>
<line x1="24.1" y1="723" x2="27.3" y2="723" stroke="#1e1e1e" stroke-width="1.1"/>
<text x="21.1" y="726" font-size="8.4" text-anchor="end" fill="#1e1e1e" stroke="#1e1e1e" stroke-width="0.22">0</text>
<line x1="24.1" y1="708.73" x2="27.3" y2="708.73" stroke="#1e1e1e" stroke-width="1.1"/>
<line x1="24.1" y1="694.47" x2="27.3" y2="694.47" stroke="#1e1e1e" stroke-width="1.1"/>
<text x="21.1" y="697.47" font-size="8.4" text-anchor="end" fill="#1e1e1e" stroke="#1e1e1e" stroke-width="0.22">20</text>
<line x1="24.1" y1="680.2" x2="27.3" y2="680.2" stroke="#1e1e1e" stroke-width="1.1"/>
<line x1="24.1" y1="665.93" x2="27.3" y2="665.93" stroke="#1e1e1e" stroke-width="1.1"/>
<text x="21.1" y="668.93" font-size="8.4" text-anchor="end" fill="#1e1e1e" stroke="#1e1e1e" stroke-width="0.22">40</text>
<line x1="24.1" y1="651.67" x2="27.3" y2="651.67" stroke="#1e1e1e" stroke-width="1.1"/>
<line x1="24.1" y1="637.4" x2="27.3" y2="637.4" stroke="#1e1e1e" stroke-width="1.1"/>
<text x="21.1" y="640.4" font-size="8.4" text-anchor="end" fill="#1e1e1e" stroke="#1e1e1e" stroke-width="0.22">60</text>
<line x1="38.6" y1="723" x2="38.6" y2="726" stroke="#1e1e1e" stroke-width="1.1"/>
<text x="38.6" y="736.5" font-size="8.4" text-anchor="middle" fill="#1e1e1e" stroke="#1e1e1e" stroke-width="0.22">4</text>
<line x1="60.05" y1="723" x2="60.05" y2="726" stroke="#1e1e1e" stroke-width="1.1"/>
<text x="60.05" y="736.5" font-size="8.4" text-anchor="middle" fill="#1e1e1e" stroke="#1e1e1e" stroke-width="0.22">10</text>
<line x1="81.5" y1="723" x2="81.5" y2="726" stroke="#1e1e1e" stroke-width="1.1"/>
<text x="81.5" y="736.5" font-size="8.4" text-anchor="middle" fill="#1e1e1e" stroke="#1e1e1e" stroke-width="0.22">14</text>
<line x1="102.95" y1="723" x2="102.95" y2="726" stroke="#1e1e1e" stroke-width="1.1"/>
<text x="102.95" y="736.5" font-size="8.4" text-anchor="middle" fill="#1e1e1e" stroke="#1e1e1e" stroke-width="0.22">18</text>
<line x1="124.4" y1="723" x2="124.4" y2="726" stroke="#1e1e1e" stroke-width="1.1"/>
<text x="124.4" y="736.5" font-size="8.4" text-anchor="middle" fill="#1e1e1e" stroke="#1e1e1e" stroke-width="0.22">22</text>
<line x1="145.85" y1="723" x2="145.85" y2="726" stroke="#1e1e1e" stroke-width="1.1"/>
<text x="145.85" y="736.5" font-size="8.4" text-anchor="middle" fill="#1e1e1e" stroke="#1e1e1e" stroke-width="0.22">26</text>
<circle cx="38.6" cy="666.6" r="1.2" fill="#141414"/>
<circle cx="60.05" cy="668.5" r="1.2" fill="#141414"/>
<circle cx="81.5" cy="669.8" r="1.2" fill="#141414"/>
<circle cx="102.95" cy="669.3" r="1.2" fill="#141414"/>
<circle cx="124.4" cy="671.7" r="1.2" fill="#141414"/>
<circle cx="145.85" cy="676.3" r="1.2" fill="#141414"/>
<text x="92" y="631" font-size="10" text-anchor="middle" fill="#1e1e1e" stroke="#1e1e1e" stroke-width="0.22">MCV (fl)</text>
<rect x="208.2" y="708.77" width="129.1" height="9.31" fill="#c8c8cb"/>
<polyline points="218.8,716.79 240.25,716.26 261.7,717.65 283.15,717.65 304.6,719.04 326.05,718.08" fill="none" stroke="#ad143e" stroke-width="1.7" stroke-linejoin="round"/>
<circle cx="218.8" cy="716.79" r="1.6" fill="#ad143e"/>
<circle cx="240.25" cy="716.26" r="1.6" fill="#ad143e"/>
<circle cx="261.7" cy="717.65" r="1.6" fill="#ad143e"/>
<circle cx="283.15" cy="717.65" r="1.6" fill="#ad143e"/>
<circle cx="304.6" cy="719.04" r="1.6" fill="#ad143e"/>
<circle cx="326.05" cy="718.08" r="1.6" fill="#ad143e"/>
<polyline points="218.8,715.3 240.25,714.44 261.7,706.31 283.15,710.91 304.6,710.37 326.05,710.37" fill="none" stroke="#141414" stroke-width="1.7" stroke-linejoin="round"/>
<circle cx="218.8" cy="715.3" r="1.7" fill="#141414"/>
<circle cx="240.25" cy="714.44" r="1.7" fill="#141414"/>
<circle cx="261.7" cy="706.31" r="1.7" fill="#141414"/>
<circle cx="283.15" cy="710.91" r="1.7" fill="#141414"/>
<circle cx="304.6" cy="710.37" r="1.7" fill="#141414"/>
<circle cx="326.05" cy="710.37" r="1.7" fill="#141414"/>
<polyline points="218.8,715.72 240.25,714.87 261.7,705.45 283.15,665.22 304.6,656.66 326.05,648.1" fill="none" stroke="#355583" stroke-width="1.7" stroke-linejoin="round"/>
<line x1="261.7" y1="708.55" x2="261.7" y2="702.13" stroke="#355583" stroke-width="1.1"/>
<line x1="259.9" y1="708.55" x2="263.5" y2="708.55" stroke="#355583" stroke-width="1.2"/>
<line x1="259.9" y1="702.13" x2="263.5" y2="702.13" stroke="#355583" stroke-width="1.2"/>
<line x1="283.15" y1="671.64" x2="283.15" y2="657.73" stroke="#355583" stroke-width="1.1"/>
<line x1="281.35" y1="671.64" x2="284.95" y2="671.64" stroke="#355583" stroke-width="1.2"/>
<line x1="281.35" y1="657.73" x2="284.95" y2="657.73" stroke="#355583" stroke-width="1.2"/>
<line x1="304.6" y1="662.01" x2="304.6" y2="651.31" stroke="#355583" stroke-width="1.1"/>
<line x1="302.8" y1="662.01" x2="306.4" y2="662.01" stroke="#355583" stroke-width="1.2"/>
<line x1="302.8" y1="651.31" x2="306.4" y2="651.31" stroke="#355583" stroke-width="1.2"/>
<line x1="326.05" y1="651.31" x2="326.05" y2="643.82" stroke="#355583" stroke-width="1.1"/>
<line x1="324.25" y1="651.31" x2="327.85" y2="651.31" stroke="#355583" stroke-width="1.2"/>
<line x1="324.25" y1="643.82" x2="327.85" y2="643.82" stroke="#355583" stroke-width="1.2"/>
<circle cx="218.8" cy="715.72" r="1.6" fill="#355583"/>
<circle cx="240.25" cy="714.87" r="1.6" fill="#355583"/>
<circle cx="261.7" cy="705.45" r="1.6" fill="#355583"/>
<circle cx="283.15" cy="665.22" r="1.6" fill="#355583"/>
<circle cx="304.6" cy="656.66" r="1.6" fill="#355583"/>
<circle cx="326.05" cy="648.1" r="1.6" fill="#355583"/>
<line x1="208.2" y1="634.6" x2="208.2" y2="723.6" stroke="#1e1e1e" stroke-width="1.2"/>
<line x1="207.6" y1="723.25" x2="337.3" y2="723.25" stroke="#1e1e1e" stroke-width="1.3"/>
<line x1="205" y1="723" x2="208.2" y2="723" stroke="#1e1e1e" stroke-width="1.1"/>
<text x="201.6" y="726" font-size="8.4" text-anchor="end" fill="#1e1e1e" stroke="#1e1e1e" stroke-width="0.22">0</text>
<line x1="205" y1="701.6" x2="208.2" y2="701.6" stroke="#1e1e1e" stroke-width="1.1"/>
<text x="201.6" y="704.6" font-size="8.4" text-anchor="end" fill="#1e1e1e" stroke="#1e1e1e" stroke-width="0.22">2</text>
<line x1="205" y1="680.2" x2="208.2" y2="680.2" stroke="#1e1e1e" stroke-width="1.1"/>
<text x="201.6" y="683.2" font-size="8.4" text-anchor="end" fill="#1e1e1e" stroke="#1e1e1e" stroke-width="0.22">4</text>
<line x1="205" y1="658.8" x2="208.2" y2="658.8" stroke="#1e1e1e" stroke-width="1.1"/>
<text x="201.6" y="661.8" font-size="8.4" text-anchor="end" fill="#1e1e1e" stroke="#1e1e1e" stroke-width="0.22">6</text>
<line x1="205" y1="637.4" x2="208.2" y2="637.4" stroke="#1e1e1e" stroke-width="1.1"/>
<text x="201.6" y="640.4" font-size="8.4" text-anchor="end" fill="#1e1e1e" stroke="#1e1e1e" stroke-width="0.22">8</text>
<line x1="218.8" y1="723" x2="218.8" y2="726" stroke="#1e1e1e" stroke-width="1.1"/>
<text x="218.8" y="736.5" font-size="8.4" text-anchor="middle" fill="#1e1e1e" stroke="#1e1e1e" stroke-width="0.22">4</text>
<line x1="240.25" y1="723" x2="240.25" y2="726" stroke="#1e1e1e" stroke-width="1.1"/>
<text x="240.25" y="736.5" font-size="8.4" text-anchor="middle" fill="#1e1e1e" stroke="#1e1e1e" stroke-width="0.22">10</text>
<line x1="261.7" y1="723" x2="261.7" y2="726" stroke="#1e1e1e" stroke-width="1.1"/>
<text x="261.7" y="736.5" font-size="8.4" text-anchor="middle" fill="#1e1e1e" stroke="#1e1e1e" stroke-width="0.22">14</text>
<line x1="283.15" y1="723" x2="283.15" y2="726" stroke="#1e1e1e" stroke-width="1.1"/>
<text x="283.15" y="736.5" font-size="8.4" text-anchor="middle" fill="#1e1e1e" stroke="#1e1e1e" stroke-width="0.22">18</text>
<line x1="304.6" y1="723" x2="304.6" y2="726" stroke="#1e1e1e" stroke-width="1.1"/>
<text x="304.6" y="736.5" font-size="8.4" text-anchor="middle" fill="#1e1e1e" stroke="#1e1e1e" stroke-width="0.22">22</text>
<line x1="326.05" y1="723" x2="326.05" y2="726" stroke="#1e1e1e" stroke-width="1.1"/>
<text x="326.05" y="736.5" font-size="8.4" text-anchor="middle" fill="#1e1e1e" stroke="#1e1e1e" stroke-width="0.22">26</text>
<circle cx="283.15" cy="647.5" r="1.2" fill="#141414"/>
<circle cx="304.6" cy="642.1" r="1.2" fill="#141414"/>
<circle cx="326.05" cy="633.5" r="1.2" fill="#141414"/>
<text x="272" y="631.5" font-size="10" text-anchor="middle" fill="#1e1e1e" stroke="#1e1e1e" stroke-width="0.22">Plts (&#215; 10<tspan font-size="7" dy="-3.5">-12</tspan><tspan dy="3.5">/L)</tspan></text>
<rect x="381.2" y="713.16" width="129.8" height="7.7" fill="#c8c8cb"/>
<polyline points="392.5,716.37 413.95,711.19 435.4,713.16 456.85,701.17 478.3,701.17 499.75,694.75" fill="none" stroke="#355583" stroke-width="1.7" stroke-linejoin="round"/>
<line x1="456.85" y1="703.74" x2="456.85" y2="697.75" stroke="#355583" stroke-width="1.1"/>
<line x1="455.05" y1="703.74" x2="458.65" y2="703.74" stroke="#355583" stroke-width="1.2"/>
<line x1="455.05" y1="697.75" x2="458.65" y2="697.75" stroke="#355583" stroke-width="1.2"/>
<line x1="478.3" y1="704.17" x2="478.3" y2="697.32" stroke="#355583" stroke-width="1.1"/>
<line x1="476.5" y1="704.17" x2="480.1" y2="704.17" stroke="#355583" stroke-width="1.2"/>
<line x1="476.5" y1="697.32" x2="480.1" y2="697.32" stroke="#355583" stroke-width="1.2"/>
<line x1="499.75" y1="697.32" x2="499.75" y2="691.76" stroke="#355583" stroke-width="1.1"/>
<line x1="497.95" y1="697.32" x2="501.55" y2="697.32" stroke="#355583" stroke-width="1.2"/>
<line x1="497.95" y1="691.76" x2="501.55" y2="691.76" stroke="#355583" stroke-width="1.2"/>
<circle cx="392.5" cy="716.37" r="1.6" fill="#355583"/>
<circle cx="413.95" cy="711.19" r="1.6" fill="#355583"/>
<circle cx="435.4" cy="713.16" r="1.6" fill="#355583"/>
<circle cx="456.85" cy="701.17" r="1.6" fill="#355583"/>
<circle cx="478.3" cy="701.17" r="1.6" fill="#355583"/>
<circle cx="499.75" cy="694.75" r="1.6" fill="#355583"/>
<polyline points="392.5,719.58 413.95,718.29 435.4,718.42 456.85,720.6 478.3,720 499.75,719.02" fill="none" stroke="#141414" stroke-width="1.7" stroke-linejoin="round"/>
<circle cx="392.5" cy="719.58" r="1.7" fill="#141414"/>
<circle cx="413.95" cy="718.29" r="1.7" fill="#141414"/>
<circle cx="435.4" cy="718.42" r="1.7" fill="#141414"/>
<circle cx="456.85" cy="720.6" r="1.7" fill="#141414"/>
<circle cx="478.3" cy="720" r="1.7" fill="#141414"/>
<circle cx="499.75" cy="719.02" r="1.7" fill="#141414"/>
<polyline points="392.5,721.12 413.95,718.12 435.4,720.3 456.85,720.82 478.3,719.83 499.75,720.3" fill="none" stroke="#ad143e" stroke-width="1.7" stroke-linejoin="round"/>
<circle cx="392.5" cy="721.12" r="1.6" fill="#ad143e"/>
<circle cx="413.95" cy="718.12" r="1.6" fill="#ad143e"/>
<circle cx="435.4" cy="720.3" r="1.6" fill="#ad143e"/>
<circle cx="456.85" cy="720.82" r="1.6" fill="#ad143e"/>
<circle cx="478.3" cy="719.83" r="1.6" fill="#ad143e"/>
<circle cx="499.75" cy="720.3" r="1.6" fill="#ad143e"/>
<line x1="381.2" y1="634.6" x2="381.2" y2="723.6" stroke="#1e1e1e" stroke-width="1.2"/>
<line x1="380.6" y1="723.25" x2="511" y2="723.25" stroke="#1e1e1e" stroke-width="1.3"/>
<line x1="378" y1="723" x2="381.2" y2="723" stroke="#1e1e1e" stroke-width="1.1"/>
<text x="375" y="726" font-size="8.4" text-anchor="end" fill="#1e1e1e" stroke="#1e1e1e" stroke-width="0.22">0</text>
<line x1="378" y1="701.6" x2="381.2" y2="701.6" stroke="#1e1e1e" stroke-width="1.1"/>
<text x="375" y="704.6" font-size="8.4" text-anchor="end" fill="#1e1e1e" stroke="#1e1e1e" stroke-width="0.22">5</text>
<line x1="378" y1="680.2" x2="381.2" y2="680.2" stroke="#1e1e1e" stroke-width="1.1"/>
<text x="375" y="683.2" font-size="8.4" text-anchor="end" fill="#1e1e1e" stroke="#1e1e1e" stroke-width="0.22">10</text>
<line x1="378" y1="658.8" x2="381.2" y2="658.8" stroke="#1e1e1e" stroke-width="1.1"/>
<text x="375" y="661.8" font-size="8.4" text-anchor="end" fill="#1e1e1e" stroke="#1e1e1e" stroke-width="0.22">15</text>
<line x1="378" y1="637.4" x2="381.2" y2="637.4" stroke="#1e1e1e" stroke-width="1.1"/>
<text x="375" y="640.4" font-size="8.4" text-anchor="end" fill="#1e1e1e" stroke="#1e1e1e" stroke-width="0.22">20</text>
<line x1="392.5" y1="723" x2="392.5" y2="726" stroke="#1e1e1e" stroke-width="1.1"/>
<text x="392.5" y="736.5" font-size="8.4" text-anchor="middle" fill="#1e1e1e" stroke="#1e1e1e" stroke-width="0.22">4</text>
<line x1="413.95" y1="723" x2="413.95" y2="726" stroke="#1e1e1e" stroke-width="1.1"/>
<text x="413.95" y="736.5" font-size="8.4" text-anchor="middle" fill="#1e1e1e" stroke="#1e1e1e" stroke-width="0.22">10</text>
<line x1="435.4" y1="723" x2="435.4" y2="726" stroke="#1e1e1e" stroke-width="1.1"/>
<text x="435.4" y="736.5" font-size="8.4" text-anchor="middle" fill="#1e1e1e" stroke="#1e1e1e" stroke-width="0.22">14</text>
<line x1="456.85" y1="723" x2="456.85" y2="726" stroke="#1e1e1e" stroke-width="1.1"/>
<text x="456.85" y="736.5" font-size="8.4" text-anchor="middle" fill="#1e1e1e" stroke="#1e1e1e" stroke-width="0.22">18</text>
<line x1="478.3" y1="723" x2="478.3" y2="726" stroke="#1e1e1e" stroke-width="1.1"/>
<text x="478.3" y="736.5" font-size="8.4" text-anchor="middle" fill="#1e1e1e" stroke="#1e1e1e" stroke-width="0.22">22</text>
<line x1="499.75" y1="723" x2="499.75" y2="726" stroke="#1e1e1e" stroke-width="1.1"/>
<text x="499.75" y="736.5" font-size="8.4" text-anchor="middle" fill="#1e1e1e" stroke="#1e1e1e" stroke-width="0.22">26</text>
<circle cx="456.85" cy="691.4" r="1.2" fill="#141414"/>
<circle cx="478.3" cy="691.4" r="1.2" fill="#141414"/>
<circle cx="499.75" cy="684.4" r="1.2" fill="#141414"/>
<text x="446.5" y="631.3" font-size="10" text-anchor="middle" fill="#1e1e1e" stroke="#1e1e1e" stroke-width="0.22">Neutrophils (&#215; 10<tspan font-size="7" dy="-3.5">-9</tspan><tspan dy="3.5">/L)</tspan></text>
<text x="92.5" y="170.6" font-size="10" text-anchor="middle" fill="#1e1e1e" stroke="#1e1e1e" stroke-width="0.22" textLength="66" lengthAdjust="spacingAndGlyphs">weeks after plpC</text>
<text x="91.7" y="609.3" font-size="10" text-anchor="middle" fill="#1e1e1e" stroke="#1e1e1e" stroke-width="0.22" textLength="106" lengthAdjust="spacingAndGlyphs">weeks after transplantation</text>
<text x="94.6" y="325.2" font-size="10" text-anchor="middle" fill="#1e1e1e" stroke="#1e1e1e" stroke-width="0.22">Survival (%)</text>
<polyline points="27.4,341.2 37.11,341.2 37.11,345.19 47.6,345.19 47.6,352.37 60.2,352.37 60.2,355.56 62.56,355.56 62.56,359.55 64.66,359.55 64.66,365.14 68.6,365.14 68.6,367.53 71.48,367.53 71.48,373.92 72.8,373.92 72.8,381.1 74.63,381.1 74.63,385.09 85.13,385.09 85.13,387.88 111.37,387.88 111.37,393.87 116.62,393.87 116.62,407.83 144.17,407.83 144.17,407.83" fill="none" stroke="#2e4670" stroke-width="1.45" stroke-linejoin="round" stroke-dasharray="3,1.6"/>
<polyline points="27.4,341.2 42.88,341.2 42.88,345.19 45.77,345.19 45.77,359.55 48.92,359.55 48.92,376.31 51.28,376.31 51.28,412.22 53.64,412.22 53.64,421" fill="none" stroke="#ad143e" stroke-width="1.4" stroke-linejoin="round" stroke-dasharray="3,1.6"/>
<polyline points="27.4,341.2 56,341.6 64.14,342.64 74.63,344.79 85.13,345.19 95.1,347.42 95.89,350.78 98.51,352.21 102.45,353.49 105.33,354.77 107.17,355.88 118.58,356.2 118.72,357.32 144.17,357.32 148.37,360.19" fill="none" stroke="#355583" stroke-width="1.3" stroke-linejoin="round"/>
<polyline points="27.4,341.2 97.99,341.2 97.99,348.78 132.88,348.78 132.88,363.54 138.13,363.54 138.13,377.11 146.27,377.11 146.27,391.87 148.1,391.87 148.1,391.87" fill="none" stroke="#ad143e" stroke-width="1.5" stroke-linejoin="round"/>
<line x1="27.4" y1="341.2" x2="148" y2="341.2" stroke="#141414" stroke-width="1.6"/>
<line x1="27.4" y1="342.1" x2="98.3" y2="342.1" stroke="#ad143e" stroke-width="0.9"/>
<line x1="27.4" y1="337.8" x2="27.4" y2="421.6" stroke="#1e1e1e" stroke-width="1.2"/>
<line x1="26.8" y1="421.2" x2="162.4" y2="421.2" stroke="#1e1e1e" stroke-width="1.3"/>
<line x1="24.2" y1="421" x2="27.4" y2="421" stroke="#1e1e1e" stroke-width="1.1"/>
<text x="21.4" y="424" font-size="8.4" text-anchor="end" fill="#1e1e1e" stroke="#1e1e1e" stroke-width="0.22">0</text>
<line x1="24.2" y1="401.05" x2="27.4" y2="401.05" stroke="#1e1e1e" stroke-width="1.1"/>
<text x="21.4" y="404.05" font-size="8.4" text-anchor="end" fill="#1e1e1e" stroke="#1e1e1e" stroke-width="0.22">25</text>
<line x1="24.2" y1="381.1" x2="27.4" y2="381.1" stroke="#1e1e1e" stroke-width="1.1"/>
<text x="21.4" y="384.1" font-size="8.4" text-anchor="end" fill="#1e1e1e" stroke="#1e1e1e" stroke-width="0.22">50</text>
<line x1="24.2" y1="361.15" x2="27.4" y2="361.15" stroke="#1e1e1e" stroke-width="1.1"/>
<text x="21.4" y="364.15" font-size="8.4" text-anchor="end" fill="#1e1e1e" stroke="#1e1e1e" stroke-width="0.22">75</text>
<line x1="24.2" y1="341.2" x2="27.4" y2="341.2" stroke="#1e1e1e" stroke-width="1.1"/>
<text x="21.4" y="344.2" font-size="8.4" text-anchor="end" fill="#1e1e1e" stroke="#1e1e1e" stroke-width="0.22">100</text>
<line x1="27.4" y1="421" x2="27.4" y2="424" stroke="#1e1e1e" stroke-width="1.1"/>
<text x="27.4" y="434.6" font-size="8.4" text-anchor="middle" fill="#1e1e1e" stroke="#1e1e1e" stroke-width="0.22">0</text>
<line x1="53.64" y1="421" x2="53.64" y2="424" stroke="#1e1e1e" stroke-width="1.1"/>
<text x="53.64" y="434.6" font-size="8.4" text-anchor="middle" fill="#1e1e1e" stroke="#1e1e1e" stroke-width="0.22">10</text>
<line x1="79.88" y1="421" x2="79.88" y2="424" stroke="#1e1e1e" stroke-width="1.1"/>
<text x="79.88" y="434.6" font-size="8.4" text-anchor="middle" fill="#1e1e1e" stroke="#1e1e1e" stroke-width="0.22">20</text>
<line x1="106.12" y1="421" x2="106.12" y2="424" stroke="#1e1e1e" stroke-width="1.1"/>
<text x="106.12" y="434.6" font-size="8.4" text-anchor="middle" fill="#1e1e1e" stroke="#1e1e1e" stroke-width="0.22">30</text>
<line x1="132.36" y1="421" x2="132.36" y2="424" stroke="#1e1e1e" stroke-width="1.1"/>
<text x="132.36" y="434.6" font-size="8.4" text-anchor="middle" fill="#1e1e1e" stroke="#1e1e1e" stroke-width="0.22">40</text>
<line x1="158.6" y1="421" x2="158.6" y2="424" stroke="#1e1e1e" stroke-width="1.1"/>
<text x="158.6" y="434.6" font-size="8.4" text-anchor="middle" fill="#1e1e1e" stroke="#1e1e1e" stroke-width="0.22">50</text>
<text x="51.2" y="448.8" font-size="10" text-anchor="start" fill="#1e1e1e" stroke="#1e1e1e" stroke-width="0.22" textLength="83.5" lengthAdjust="spacingAndGlyphs">weeks after induction</text>
<text x="151.8" y="343.8" font-size="8.8" text-anchor="start" fill="#1e1e1e" stroke="#1e1e1e" stroke-width="0.1">WT</text>
<text x="150.3" y="357.9" font-size="8" text-anchor="start" fill="#3a5180" stroke="#3a5180" stroke-width="0.08" font-style="italic">MxCre;</text>
<text x="150.3" y="367.6" font-size="8" text-anchor="start" fill="#3a5180" stroke="#3a5180" stroke-width="0.08" font-style="italic">V617F</text>
<text x="151.2" y="389.6" font-size="8" text-anchor="start" fill="#961c48" stroke="#961c48" stroke-width="0.08" font-style="italic">MxCre;</text>
<text x="151.2" y="398.8" font-size="8" text-anchor="start" fill="#961c48" stroke="#961c48" stroke-width="0.08" font-style="italic">Ex12</text>
<text x="149.4" y="410.4" font-size="8" text-anchor="start" fill="#3a5180" stroke="#3a5180" stroke-width="0.08" font-style="italic">SclCre;</text>
<text x="149.4" y="418.6" font-size="8" text-anchor="start" fill="#3a5180" stroke="#3a5180" stroke-width="0.08" font-style="italic">V617F</text>
<text x="60" y="416.6" font-size="8" text-anchor="start" fill="#961c48" stroke="#961c48" stroke-width="0.08" font-style="italic">SclCre;Ex12</text>
<text x="271.6" y="325.2" font-size="10" text-anchor="middle" fill="#1e1e1e" stroke="#1e1e1e" stroke-width="0.22">Spleen size (cm)</text>
<defs><linearGradient id="pg" x1="0" y1="0" x2="1" y2="0"><stop offset="0" stop-color="#d2d2d4"/><stop offset="0.14" stop-color="#d8d8da"/><stop offset="0.2" stop-color="#dedee2"/><stop offset="0.27" stop-color="#d9dadf"/><stop offset="0.6" stop-color="#dcdde2"/><stop offset="0.97" stop-color="#dfe0e4"/><stop offset="1" stop-color="#e6e6e8"/></linearGradient><linearGradient id="pv" x1="0" y1="0" x2="0" y2="1"><stop offset="0" stop-color="#000" stop-opacity="0.02"/><stop offset="0.35" stop-color="#fff" stop-opacity="0"/><stop offset="0.8" stop-color="#eef0ff" stop-opacity="0.22"/><stop offset="1" stop-color="#eef0ff" stop-opacity="0.12"/></linearGradient></defs>
<rect x="220.6" y="342.1" width="101.7" height="68.2" fill="url(#pg)"/>
<rect x="220.6" y="342.1" width="101.7" height="68.2" fill="url(#pv)"/>
<defs><linearGradient id="rg" x1="0" y1="0" x2="1" y2="0"><stop offset="0" stop-color="#d4d4d4"/><stop offset="0.12" stop-color="#e2e2e0"/><stop offset="0.85" stop-color="#e6e6e4"/><stop offset="1" stop-color="#d6d6d6"/></linearGradient></defs>
<rect x="220.6" y="342.1" width="29" height="68.2" fill="url(#rg)"/>
<line x1="239.5" y1="355.13" x2="247.5" y2="355.13" stroke="#a8a8a8" stroke-width="0.5"/>
<line x1="233.5" y1="357.6" x2="247.5" y2="357.6" stroke="#7a7a7a" stroke-width="0.7"/>
<line x1="239.5" y1="360.07" x2="247.5" y2="360.07" stroke="#a8a8a8" stroke-width="0.5"/>
<line x1="239.5" y1="362.54" x2="247.5" y2="362.54" stroke="#a8a8a8" stroke-width="0.5"/>
<line x1="239.5" y1="365.01" x2="247.5" y2="365.01" stroke="#a8a8a8" stroke-width="0.5"/>
<line x1="239.5" y1="367.48" x2="247.5" y2="367.48" stroke="#a8a8a8" stroke-width="0.5"/>
<line x1="236.5" y1="369.95" x2="247.5" y2="369.95" stroke="#9a9a9a" stroke-width="0.55"/>
<line x1="239.5" y1="372.42" x2="247.5" y2="372.42" stroke="#a8a8a8" stroke-width="0.5"/>
<line x1="239.5" y1="374.89" x2="247.5" y2="374.89" stroke="#a8a8a8" stroke-width="0.5"/>
<line x1="239.5" y1="377.36" x2="247.5" y2="377.36" stroke="#a8a8a8" stroke-width="0.5"/>
<line x1="239.5" y1="379.83" x2="247.5" y2="379.83" stroke="#a8a8a8" stroke-width="0.5"/>
<line x1="233.5" y1="382.3" x2="247.5" y2="382.3" stroke="#7a7a7a" stroke-width="0.7"/>
<line x1="239.5" y1="384.77" x2="247.5" y2="384.77" stroke="#a8a8a8" stroke-width="0.5"/>
<line x1="239.5" y1="387.24" x2="247.5" y2="387.24" stroke="#a8a8a8" stroke-width="0.5"/>
<line x1="239.5" y1="389.71" x2="247.5" y2="389.71" stroke="#a8a8a8" stroke-width="0.5"/>
<line x1="239.5" y1="392.18" x2="247.5" y2="392.18" stroke="#a8a8a8" stroke-width="0.5"/>
<line x1="236.5" y1="394.65" x2="247.5" y2="394.65" stroke="#9a9a9a" stroke-width="0.55"/>
<line x1="239.5" y1="397.12" x2="247.5" y2="397.12" stroke="#a8a8a8" stroke-width="0.5"/>
<line x1="239.5" y1="399.59" x2="247.5" y2="399.59" stroke="#a8a8a8" stroke-width="0.5"/>
<line x1="239.5" y1="402.06" x2="247.5" y2="402.06" stroke="#a8a8a8" stroke-width="0.5"/>
<line x1="239.5" y1="404.53" x2="247.5" y2="404.53" stroke="#a8a8a8" stroke-width="0.5"/>
<line x1="233.5" y1="407" x2="247.5" y2="407" stroke="#7a7a7a" stroke-width="0.7"/>
<line x1="239.5" y1="409.47" x2="247.5" y2="409.47" stroke="#a8a8a8" stroke-width="0.5"/>
<text x="0" y="0" font-size="8" fill="#505050" text-anchor="middle" transform="translate(227.6,357.6) rotate(90)">0</text>
<text x="0" y="0" font-size="8" fill="#505050" text-anchor="middle" transform="translate(227.6,382.3) rotate(90)">1</text>
<text x="0" y="0" font-size="8" fill="#505050" text-anchor="middle" transform="translate(227.6,407) rotate(90)">2</text>
<path d="M272.5,357.5 C274.5,357.4 278,358.4 280.2,360.5 C282.3,362.6 283.2,366 282.9,369.5 C282.6,373.5 281.2,377.5 279.3,380 C278.3,381.4 276.6,382.2 275.2,381.2 C274,380.3 273.9,378 274.3,375.5 C274.9,372 275.6,368.5 275.3,365.2 C275,362.8 274.2,361.2 273.3,360.1 C272.4,359 271.8,357.7 272.5,357.5 Z" fill="#652630" stroke="#42181e" stroke-width="0.8"/>
<path d="M299.6,357.1 C302.5,356.6 306.3,357.8 309,360.6 C312,363.6 314.2,368 315.2,373.2 C316,377.6 315.8,382.5 314.4,386.8 C312.8,391.6 310,396 306.5,400 C304.8,401.9 302.6,403.3 300.6,402.8 C298.8,402.3 298,400.2 298.6,397.5 C299.2,395 300.2,392.5 301.5,389.6 C303.3,385.8 304.9,381.5 304.7,377.4 C304.5,373.5 302.8,370.2 300.6,367 C299.2,365 297.8,363 297.4,361 C297,359.1 297.9,357.4 299.6,357.1 Z" fill="#5f232c" stroke="#3c151a" stroke-width="0.9"/>
<path d="M301,361 C304,361.5 308,365 310.5,370 C312.4,374.5 312.6,380 311,385" fill="none" stroke="#84404a" stroke-width="1.8" opacity="0.5"/>
<path d="M276.5,361 C279,363 280.5,367 280,371.5" fill="none" stroke="#88424c" stroke-width="1.3" opacity="0.5"/>
<circle cx="301.9" cy="399.6" r="0.7" fill="#d8c8c8"/>
<text x="275.8" y="423.3" font-size="10.4" text-anchor="middle" fill="#1e1e1e" stroke="#1e1e1e" stroke-width="0.1">WT</text>
<text x="294.6" y="423.6" font-size="10" text-anchor="start" fill="#961c48" stroke="#961c48" stroke-width="0.08" font-style="italic">MxCre;</text>
<text x="294.6" y="435.6" font-size="10" text-anchor="start" fill="#961c48" stroke="#961c48" stroke-width="0.08" font-style="italic">Ex12</text>
<text x="446.8" y="325.8" font-size="10" text-anchor="middle" fill="#1e1e1e" stroke="#1e1e1e" stroke-width="0.22">Spleen weight (g)</text>
<line x1="381.4" y1="330.2" x2="381.4" y2="421.3" stroke="#1e1e1e" stroke-width="1.2"/>
<line x1="380.8" y1="420.9" x2="512.3" y2="420.9" stroke="#1e1e1e" stroke-width="1.3"/>
<line x1="378.2" y1="420.7" x2="381.4" y2="420.7" stroke="#1e1e1e" stroke-width="1.1"/>
<text x="375.4" y="423.7" font-size="8.4" text-anchor="end" fill="#1e1e1e" stroke="#1e1e1e" stroke-width="0.22">0</text>
<line x1="378.2" y1="398.9" x2="381.4" y2="398.9" stroke="#1e1e1e" stroke-width="1.1"/>
<line x1="378.2" y1="377.1" x2="381.4" y2="377.1" stroke="#1e1e1e" stroke-width="1.1"/>
<text x="375.4" y="380.1" font-size="8.4" text-anchor="end" fill="#1e1e1e" stroke="#1e1e1e" stroke-width="0.22">0.5</text>
<line x1="378.2" y1="355.3" x2="381.4" y2="355.3" stroke="#1e1e1e" stroke-width="1.1"/>
<line x1="378.2" y1="333.5" x2="381.4" y2="333.5" stroke="#1e1e1e" stroke-width="1.1"/>
<text x="375.4" y="336.5" font-size="8.4" text-anchor="end" fill="#1e1e1e" stroke="#1e1e1e" stroke-width="0.22">1.0</text>
<line x1="401.1" y1="347.9" x2="492.7" y2="347.9" stroke="#141414" stroke-width="1.2"/>
<circle cx="447.2" cy="341.3" r="1.25" fill="#141414"/>
<line x1="402.7" y1="366.2" x2="446.4" y2="366.2" stroke="#141414" stroke-width="1.2"/>
<circle cx="424.3" cy="359.6" r="1.25" fill="#141414"/>
<line x1="391.5" y1="413.7" x2="420.5" y2="413.7" stroke="#141414" stroke-width="1.3"/>
<rect x="396" y="411.6" width="3.6" height="3.6" fill="#141414"/>
<rect x="399" y="411.8" width="3.6" height="3.6" fill="#141414"/>
<rect x="401.8" y="412.8" width="3.6" height="3.6" fill="#141414"/>
<rect x="404.6" y="411.8" width="3.6" height="3.6" fill="#141414"/>
<rect x="407.4" y="412" width="3.6" height="3.6" fill="#141414"/>
<rect x="410" y="411.4" width="3.6" height="3.6" fill="#141414"/>
<rect x="411.8" y="410.4" width="3.6" height="3.6" fill="#141414"/>
<circle cx="445.5" cy="382.1" r="1.9" fill="#ad143e"/>
<circle cx="453.1" cy="382.1" r="1.9" fill="#ad143e"/>
<circle cx="442.3" cy="388.3" r="1.9" fill="#ad143e"/>
<circle cx="450.9" cy="387.5" r="1.9" fill="#ad143e"/>
<circle cx="445.5" cy="391" r="1.9" fill="#ad143e"/>
<circle cx="453.1" cy="393.7" r="1.9" fill="#ad143e"/>
<circle cx="440.4" cy="398.2" r="1.9" fill="#ad143e"/>
<circle cx="445.5" cy="400.9" r="1.9" fill="#ad143e"/>
<circle cx="450.9" cy="399.9" r="1.9" fill="#ad143e"/>
<circle cx="455.2" cy="397.2" r="1.9" fill="#ad143e"/>
<line x1="433.7" y1="391.8" x2="463" y2="391.8" stroke="#141414" stroke-width="1.3"/>
<path d="M479.5,373.7 L482.1,378.1 L476.9,378.1 Z" fill="#355583"/>
<path d="M484,376.3 L486.6,380.7 L481.4,380.7 Z" fill="#355583"/>
<path d="M498.9,373.1 L501.5,377.5 L496.3,377.5 Z" fill="#355583"/>
<path d="M503.7,372.6 L506.3,377 L501.1,377 Z" fill="#355583"/>
<path d="M488.1,379.6 L490.7,384 L485.5,384 Z" fill="#355583"/>
<path d="M493.5,379.6 L496.1,384 L490.9,384 Z" fill="#355583"/>
<path d="M498.3,382.3 L500.9,386.7 L495.7,386.7 Z" fill="#355583"/>
<path d="M482.2,384.4 L484.8,388.8 L479.6,388.8 Z" fill="#355583"/>
<path d="M491.3,387.1 L493.9,391.5 L488.7,391.5 Z" fill="#355583"/>
<path d="M485.4,389.8 L488,394.2 L482.8,394.2 Z" fill="#355583"/>
<path d="M491.3,395.7 L493.9,400.1 L488.7,400.1 Z" fill="#355583"/>
<path d="M498.3,395.2 L500.9,399.6 L495.7,399.6 Z" fill="#355583"/>
<line x1="477.3" y1="384.8" x2="506.4" y2="384.8" stroke="#141414" stroke-width="1.3"/>
<text x="406.1" y="431.6" font-size="8.7" text-anchor="middle" fill="#1e1e1e" stroke="#1e1e1e" stroke-width="0.05">WT</text>
<text x="434.5" y="431.6" font-size="8.5" text-anchor="start" fill="#961c48" stroke="#961c48" stroke-width="0.08" font-style="italic">MxCre;</text>
<text x="434.5" y="442.7" font-size="8.5" text-anchor="start" fill="#961c48" stroke="#961c48" stroke-width="0.08" font-style="italic">Ex12</text>
<text x="478.5" y="431.6" font-size="8.5" text-anchor="start" fill="#3a5180" stroke="#3a5180" stroke-width="0.08" font-style="italic">MxCre;</text>
<text x="478.5" y="442.7" font-size="8.5" text-anchor="start" fill="#3a5180" stroke="#3a5180" stroke-width="0.08" font-style="italic">V617F</text>
<rect x="0.5" y="0.5" width="519" height="745" fill="none" stroke="#1a1a1a" stroke-width="1.2"/>
</svg>
</body></html>
